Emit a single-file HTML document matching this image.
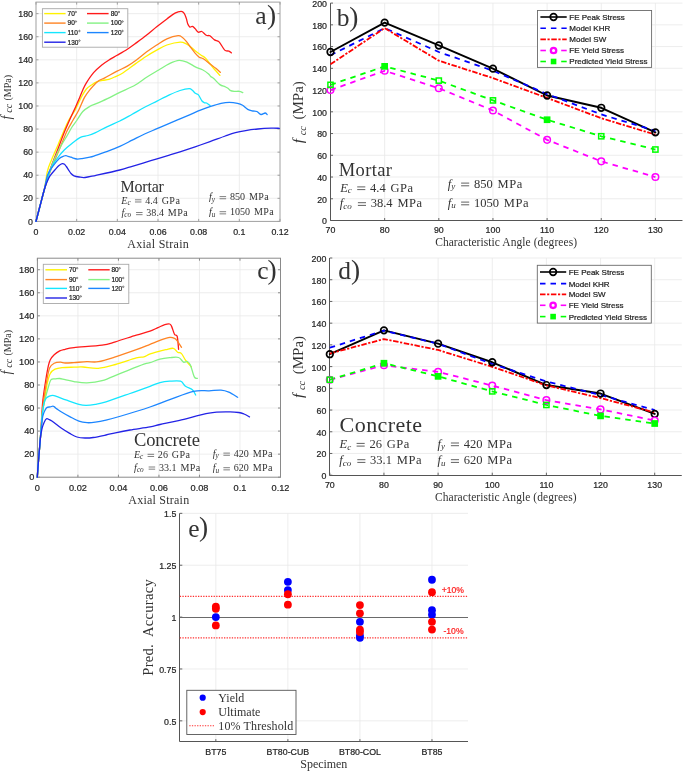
<!DOCTYPE html>
<html><head><meta charset="utf-8"><style>
html,body{margin:0;padding:0;background:#fff;}
svg{display:block;will-change:transform;}
</style></head><body>
<svg width="685" height="771" viewBox="0 0 685 771">
<rect width="685" height="771" fill="#fff"/>
<line x1="76.67" y1="2.10" x2="76.67" y2="221.40" stroke="#e8e8e8" stroke-width="0.8" />
<line x1="117.33" y1="2.10" x2="117.33" y2="221.40" stroke="#e8e8e8" stroke-width="0.8" />
<line x1="158.00" y1="2.10" x2="158.00" y2="221.40" stroke="#e8e8e8" stroke-width="0.8" />
<line x1="198.67" y1="2.10" x2="198.67" y2="221.40" stroke="#e8e8e8" stroke-width="0.8" />
<line x1="239.33" y1="2.10" x2="239.33" y2="221.40" stroke="#e8e8e8" stroke-width="0.8" />
<line x1="36.00" y1="198.32" x2="280.00" y2="198.32" stroke="#e8e8e8" stroke-width="0.8" />
<line x1="36.00" y1="175.23" x2="280.00" y2="175.23" stroke="#e8e8e8" stroke-width="0.8" />
<line x1="36.00" y1="152.15" x2="280.00" y2="152.15" stroke="#e8e8e8" stroke-width="0.8" />
<line x1="36.00" y1="129.06" x2="280.00" y2="129.06" stroke="#e8e8e8" stroke-width="0.8" />
<line x1="36.00" y1="105.98" x2="280.00" y2="105.98" stroke="#e8e8e8" stroke-width="0.8" />
<line x1="36.00" y1="82.89" x2="280.00" y2="82.89" stroke="#e8e8e8" stroke-width="0.8" />
<line x1="36.00" y1="59.81" x2="280.00" y2="59.81" stroke="#e8e8e8" stroke-width="0.8" />
<line x1="36.00" y1="36.73" x2="280.00" y2="36.73" stroke="#e8e8e8" stroke-width="0.8" />
<line x1="36.00" y1="13.64" x2="280.00" y2="13.64" stroke="#e8e8e8" stroke-width="0.8" />
<rect x="36" y="2.1" width="244" height="219.3" fill="none" stroke="#a0a0a0" stroke-width="1"/>
<line x1="36.00" y1="221.40" x2="36.00" y2="218.90" stroke="#a0a0a0" stroke-width="1" />
<line x1="36.00" y1="2.10" x2="36.00" y2="4.60" stroke="#a0a0a0" stroke-width="1" />
<text x="36.00" y="234.80" font-size="8.8" text-anchor="middle" font-family='"Liberation Sans", sans-serif' fill="#262626" stroke="#262626" stroke-width="0.22" >0</text>
<line x1="76.67" y1="221.40" x2="76.67" y2="218.90" stroke="#a0a0a0" stroke-width="1" />
<line x1="76.67" y1="2.10" x2="76.67" y2="4.60" stroke="#a0a0a0" stroke-width="1" />
<text x="76.67" y="234.80" font-size="8.8" text-anchor="middle" font-family='"Liberation Sans", sans-serif' fill="#262626" stroke="#262626" stroke-width="0.22" >0.02</text>
<line x1="117.33" y1="221.40" x2="117.33" y2="218.90" stroke="#a0a0a0" stroke-width="1" />
<line x1="117.33" y1="2.10" x2="117.33" y2="4.60" stroke="#a0a0a0" stroke-width="1" />
<text x="117.33" y="234.80" font-size="8.8" text-anchor="middle" font-family='"Liberation Sans", sans-serif' fill="#262626" stroke="#262626" stroke-width="0.22" >0.04</text>
<line x1="158.00" y1="221.40" x2="158.00" y2="218.90" stroke="#a0a0a0" stroke-width="1" />
<line x1="158.00" y1="2.10" x2="158.00" y2="4.60" stroke="#a0a0a0" stroke-width="1" />
<text x="158.00" y="234.80" font-size="8.8" text-anchor="middle" font-family='"Liberation Sans", sans-serif' fill="#262626" stroke="#262626" stroke-width="0.22" >0.06</text>
<line x1="198.67" y1="221.40" x2="198.67" y2="218.90" stroke="#a0a0a0" stroke-width="1" />
<line x1="198.67" y1="2.10" x2="198.67" y2="4.60" stroke="#a0a0a0" stroke-width="1" />
<text x="198.67" y="234.80" font-size="8.8" text-anchor="middle" font-family='"Liberation Sans", sans-serif' fill="#262626" stroke="#262626" stroke-width="0.22" >0.08</text>
<line x1="239.33" y1="221.40" x2="239.33" y2="218.90" stroke="#a0a0a0" stroke-width="1" />
<line x1="239.33" y1="2.10" x2="239.33" y2="4.60" stroke="#a0a0a0" stroke-width="1" />
<text x="239.33" y="234.80" font-size="8.8" text-anchor="middle" font-family='"Liberation Sans", sans-serif' fill="#262626" stroke="#262626" stroke-width="0.22" >0.1</text>
<line x1="280.00" y1="221.40" x2="280.00" y2="218.90" stroke="#a0a0a0" stroke-width="1" />
<line x1="280.00" y1="2.10" x2="280.00" y2="4.60" stroke="#a0a0a0" stroke-width="1" />
<text x="280.00" y="234.80" font-size="8.8" text-anchor="middle" font-family='"Liberation Sans", sans-serif' fill="#262626" stroke="#262626" stroke-width="0.22" >0.12</text>
<line x1="36.00" y1="221.40" x2="38.50" y2="221.40" stroke="#a0a0a0" stroke-width="1" />
<line x1="280.00" y1="221.40" x2="277.50" y2="221.40" stroke="#a0a0a0" stroke-width="1" />
<text x="33.00" y="224.50" font-size="8.8" text-anchor="end" font-family='"Liberation Sans", sans-serif' fill="#262626" stroke="#262626" stroke-width="0.22" >0</text>
<line x1="36.00" y1="198.32" x2="38.50" y2="198.32" stroke="#a0a0a0" stroke-width="1" />
<line x1="280.00" y1="198.32" x2="277.50" y2="198.32" stroke="#a0a0a0" stroke-width="1" />
<text x="33.00" y="201.42" font-size="8.8" text-anchor="end" font-family='"Liberation Sans", sans-serif' fill="#262626" stroke="#262626" stroke-width="0.22" >20</text>
<line x1="36.00" y1="175.23" x2="38.50" y2="175.23" stroke="#a0a0a0" stroke-width="1" />
<line x1="280.00" y1="175.23" x2="277.50" y2="175.23" stroke="#a0a0a0" stroke-width="1" />
<text x="33.00" y="178.33" font-size="8.8" text-anchor="end" font-family='"Liberation Sans", sans-serif' fill="#262626" stroke="#262626" stroke-width="0.22" >40</text>
<line x1="36.00" y1="152.15" x2="38.50" y2="152.15" stroke="#a0a0a0" stroke-width="1" />
<line x1="280.00" y1="152.15" x2="277.50" y2="152.15" stroke="#a0a0a0" stroke-width="1" />
<text x="33.00" y="155.25" font-size="8.8" text-anchor="end" font-family='"Liberation Sans", sans-serif' fill="#262626" stroke="#262626" stroke-width="0.22" >60</text>
<line x1="36.00" y1="129.06" x2="38.50" y2="129.06" stroke="#a0a0a0" stroke-width="1" />
<line x1="280.00" y1="129.06" x2="277.50" y2="129.06" stroke="#a0a0a0" stroke-width="1" />
<text x="33.00" y="132.16" font-size="8.8" text-anchor="end" font-family='"Liberation Sans", sans-serif' fill="#262626" stroke="#262626" stroke-width="0.22" >80</text>
<line x1="36.00" y1="105.98" x2="38.50" y2="105.98" stroke="#a0a0a0" stroke-width="1" />
<line x1="280.00" y1="105.98" x2="277.50" y2="105.98" stroke="#a0a0a0" stroke-width="1" />
<text x="33.00" y="109.08" font-size="8.8" text-anchor="end" font-family='"Liberation Sans", sans-serif' fill="#262626" stroke="#262626" stroke-width="0.22" >100</text>
<line x1="36.00" y1="82.89" x2="38.50" y2="82.89" stroke="#a0a0a0" stroke-width="1" />
<line x1="280.00" y1="82.89" x2="277.50" y2="82.89" stroke="#a0a0a0" stroke-width="1" />
<text x="33.00" y="85.99" font-size="8.8" text-anchor="end" font-family='"Liberation Sans", sans-serif' fill="#262626" stroke="#262626" stroke-width="0.22" >120</text>
<line x1="36.00" y1="59.81" x2="38.50" y2="59.81" stroke="#a0a0a0" stroke-width="1" />
<line x1="280.00" y1="59.81" x2="277.50" y2="59.81" stroke="#a0a0a0" stroke-width="1" />
<text x="33.00" y="62.91" font-size="8.8" text-anchor="end" font-family='"Liberation Sans", sans-serif' fill="#262626" stroke="#262626" stroke-width="0.22" >140</text>
<line x1="36.00" y1="36.73" x2="38.50" y2="36.73" stroke="#a0a0a0" stroke-width="1" />
<line x1="280.00" y1="36.73" x2="277.50" y2="36.73" stroke="#a0a0a0" stroke-width="1" />
<text x="33.00" y="39.83" font-size="8.8" text-anchor="end" font-family='"Liberation Sans", sans-serif' fill="#262626" stroke="#262626" stroke-width="0.22" >160</text>
<line x1="36.00" y1="13.64" x2="38.50" y2="13.64" stroke="#a0a0a0" stroke-width="1" />
<line x1="280.00" y1="13.64" x2="277.50" y2="13.64" stroke="#a0a0a0" stroke-width="1" />
<text x="33.00" y="16.74" font-size="8.8" text-anchor="end" font-family='"Liberation Sans", sans-serif' fill="#262626" stroke="#262626" stroke-width="0.22" >180</text>
<path d="M36.00,221.40 C36.67,218.83 38.63,211.23 40.00,206.00 C41.37,200.77 42.95,195.83 44.20,190.00 C45.45,184.17 46.33,175.88 47.50,171.00 C48.67,166.12 49.42,165.13 51.20,160.70 C52.98,156.27 56.23,149.02 58.20,144.40 C60.17,139.78 61.23,137.07 63.00,133.00 C64.77,128.93 66.77,123.83 68.80,120.00 C70.83,116.17 73.12,113.80 75.20,110.00 C77.28,106.20 79.43,100.70 81.30,97.20 C83.17,93.70 84.70,91.03 86.40,89.00 C88.10,86.97 89.78,86.18 91.50,85.00 C93.22,83.82 94.82,82.67 96.70,81.90 C98.58,81.13 100.77,80.83 102.80,80.40 C104.83,79.97 106.87,79.90 108.90,79.30 C110.93,78.70 112.62,77.90 115.00,76.80 C117.38,75.70 119.70,74.93 123.20,72.70 C126.70,70.47 132.13,66.15 136.00,63.40 C139.87,60.65 142.95,58.42 146.40,56.20 C149.85,53.98 153.28,51.97 156.70,50.10 C160.12,48.23 162.98,46.33 166.90,45.00 C170.82,43.67 176.97,42.28 180.20,42.10 C183.43,41.92 184.43,43.00 186.30,43.90 C188.17,44.80 189.77,46.22 191.40,47.50 C193.03,48.78 194.47,50.32 196.10,51.60 C197.73,52.88 199.63,54.12 201.20,55.20 C202.77,56.28 203.95,56.55 205.50,58.10 C207.05,59.65 208.98,62.60 210.50,64.50 C212.02,66.40 213.03,67.68 214.60,69.50 C216.17,71.32 219.02,74.42 219.90,75.40" fill="none" stroke="#fff200" stroke-width="1.3" stroke-linejoin="round" stroke-linecap="round" />
<path d="M36.00,221.40 C36.67,218.83 38.63,211.23 40.00,206.00 C41.37,200.77 42.53,196.00 44.20,190.00 C45.87,184.00 47.57,177.22 50.00,170.00 C52.43,162.78 56.47,152.87 58.80,146.70 C61.13,140.53 62.20,137.45 64.00,133.00 C65.80,128.55 67.63,124.43 69.60,120.00 C71.57,115.57 74.12,110.17 75.80,106.40 C77.48,102.63 78.53,100.13 79.70,97.40 C80.87,94.67 81.68,92.42 82.80,90.00 C83.92,87.58 84.60,85.78 86.40,82.90 C88.20,80.02 91.03,75.68 93.60,72.70 C96.17,69.72 99.08,67.22 101.80,65.00 C104.52,62.78 107.35,61.02 109.90,59.40 C112.45,57.78 114.20,57.00 117.10,55.30 C120.00,53.60 124.12,51.27 127.30,49.20 C130.48,47.13 133.02,45.22 136.20,42.90 C139.38,40.58 142.98,37.98 146.40,35.30 C149.82,32.62 153.28,29.53 156.70,26.80 C160.12,24.07 163.85,21.18 166.90,18.90 C169.95,16.62 172.62,14.35 175.00,13.10 C177.38,11.85 179.67,11.37 181.20,11.40 C182.73,11.43 183.35,12.13 184.20,13.30 C185.05,14.47 185.70,16.62 186.30,18.40 C186.90,20.18 187.20,22.55 187.80,24.00 C188.40,25.45 189.13,26.70 189.90,27.10 C190.67,27.50 191.53,26.15 192.40,26.40 C193.27,26.65 194.13,27.63 195.10,28.60 C196.07,29.57 197.08,31.72 198.20,32.20 C199.32,32.68 200.45,30.98 201.80,31.50 C203.15,32.02 204.95,34.58 206.30,35.30 C207.65,36.02 208.53,35.03 209.90,35.80 C211.27,36.57 212.97,38.88 214.50,39.90 C216.03,40.92 217.40,40.20 219.10,41.90 C220.80,43.60 223.08,48.57 224.70,50.10 C226.32,51.63 227.68,50.63 228.80,51.10 C229.92,51.57 230.97,52.60 231.40,52.90" fill="none" stroke="#ff1a1a" stroke-width="1.3" stroke-linejoin="round" stroke-linecap="round" />
<path d="M36.00,221.40 C36.67,218.83 38.63,211.23 40.00,206.00 C41.37,200.77 42.53,195.67 44.20,190.00 C45.87,184.33 47.28,179.22 50.00,172.00 C52.72,164.78 57.67,153.53 60.50,146.70 C63.33,139.87 64.90,135.45 67.00,131.00 C69.10,126.55 71.13,123.50 73.10,120.00 C75.07,116.50 76.90,113.77 78.80,110.00 C80.70,106.23 82.55,100.90 84.50,97.40 C86.45,93.90 88.30,91.67 90.50,89.00 C92.70,86.33 95.32,83.27 97.70,81.40 C100.08,79.53 101.57,79.50 104.80,77.80 C108.03,76.10 113.35,73.15 117.10,71.20 C120.85,69.25 124.13,67.93 127.30,66.10 C130.47,64.27 132.92,62.53 136.10,60.20 C139.28,57.87 142.97,54.63 146.40,52.10 C149.83,49.57 153.28,47.22 156.70,45.00 C160.12,42.78 163.33,40.37 166.90,38.80 C170.47,37.23 175.55,35.85 178.10,35.60 C180.65,35.35 180.83,36.33 182.20,37.30 C183.57,38.27 184.93,39.78 186.30,41.40 C187.67,43.02 188.93,45.05 190.40,47.00 C191.87,48.95 193.63,51.40 195.10,53.10 C196.57,54.80 197.83,56.25 199.20,57.20 C200.57,58.15 201.42,57.62 203.30,58.80 C205.18,59.98 208.42,62.72 210.50,64.30 C212.58,65.88 214.15,66.95 215.80,68.30 C217.45,69.65 219.63,71.72 220.40,72.40" fill="none" stroke="#ff8424" stroke-width="1.3" stroke-linejoin="round" stroke-linecap="round" />
<path d="M36.00,221.40 C36.67,218.83 38.63,211.23 40.00,206.00 C41.37,200.77 42.15,196.97 44.20,190.00 C46.25,183.03 49.78,171.03 52.30,164.20 C54.82,157.37 56.77,153.87 59.30,149.00 C61.83,144.13 65.38,138.67 67.50,135.00 C69.62,131.33 70.40,129.50 72.00,127.00 C73.60,124.50 75.30,122.58 77.10,120.00 C78.90,117.42 80.65,113.80 82.80,111.50 C84.95,109.20 87.97,107.42 90.00,106.20 C92.03,104.98 92.10,105.47 95.00,104.20 C97.90,102.93 103.27,100.57 107.40,98.60 C111.53,96.63 115.15,94.67 119.80,92.40 C124.45,90.13 130.77,87.57 135.30,85.00 C139.83,82.43 143.10,79.50 147.00,77.00 C150.90,74.50 154.88,72.27 158.70,70.00 C162.52,67.73 166.50,65.02 169.90,63.40 C173.30,61.78 176.20,60.48 179.10,60.30 C182.00,60.12 184.60,61.22 187.30,62.30 C190.00,63.38 192.77,65.55 195.30,66.80 C197.83,68.05 200.28,68.62 202.50,69.80 C204.72,70.98 207.23,72.78 208.60,73.90 C209.97,75.02 209.85,75.73 210.70,76.50 C211.55,77.27 212.17,77.15 213.70,78.50 C215.23,79.85 218.02,83.23 219.90,84.60 C221.78,85.97 223.65,86.10 225.00,86.70 C226.35,87.30 227.15,87.60 228.00,88.20 C228.85,88.80 229.07,89.78 230.10,90.30 C231.13,90.82 232.67,91.13 234.20,91.30 C235.73,91.47 237.87,91.08 239.30,91.30 C240.73,91.52 242.22,92.38 242.80,92.60" fill="none" stroke="#84f284" stroke-width="1.3" stroke-linejoin="round" stroke-linecap="round" />
<path d="M36.00,221.40 C36.67,218.83 38.63,211.23 40.00,206.00 C41.37,200.77 42.33,196.38 44.20,190.00 C46.07,183.62 48.87,173.17 51.20,167.70 C53.53,162.23 56.07,160.12 58.20,157.20 C60.33,154.28 61.67,152.53 64.00,150.20 C66.33,147.87 69.47,145.33 72.20,143.20 C74.93,141.07 77.77,138.68 80.40,137.40 C83.03,136.12 85.57,136.27 88.00,135.50 C90.43,134.73 91.77,134.28 95.00,132.80 C98.23,131.32 103.27,128.57 107.40,126.60 C111.53,124.63 115.67,123.07 119.80,121.00 C123.93,118.93 128.07,116.48 132.20,114.20 C136.33,111.92 140.47,109.48 144.60,107.30 C148.73,105.12 152.87,103.17 157.00,101.10 C161.13,99.03 165.57,96.67 169.40,94.90 C173.23,93.13 176.70,91.53 180.00,90.50 C183.30,89.47 187.15,88.73 189.20,88.70 C191.25,88.67 191.28,89.53 192.30,90.30 C193.32,91.07 194.28,92.53 195.30,93.30 C196.32,94.07 197.28,93.62 198.40,94.90 C199.52,96.18 200.98,99.68 202.00,101.00 C203.02,102.32 203.73,102.47 204.50,102.80 C205.27,103.13 205.67,102.53 206.60,103.00 C207.53,103.47 209.52,105.17 210.10,105.60" fill="none" stroke="#14e6ff" stroke-width="1.3" stroke-linejoin="round" stroke-linecap="round" />
<path d="M36.00,221.40 C36.67,218.83 38.63,211.23 40.00,206.00 C41.37,200.77 42.92,195.22 44.20,190.00 C45.48,184.78 46.15,178.80 47.70,174.70 C49.25,170.60 51.57,168.12 53.50,165.40 C55.43,162.68 57.55,159.97 59.30,158.40 C61.05,156.83 62.88,156.47 64.00,156.00 C65.12,155.53 65.33,155.53 66.00,155.60 C66.67,155.67 67.35,156.20 68.00,156.40 C68.65,156.60 69.15,156.57 69.90,156.80 C70.65,157.03 71.33,157.43 72.50,157.80 C73.67,158.17 75.32,158.87 76.90,159.00 C78.48,159.13 79.83,158.90 82.00,158.60 C84.17,158.30 87.73,157.68 89.90,157.20 C92.07,156.72 92.08,156.67 95.00,155.70 C97.92,154.73 103.27,152.95 107.40,151.40 C111.53,149.85 115.67,148.27 119.80,146.40 C123.93,144.53 128.07,142.27 132.20,140.20 C136.33,138.13 140.47,135.92 144.60,134.00 C148.73,132.08 152.87,130.47 157.00,128.70 C161.13,126.93 165.57,125.03 169.40,123.40 C173.23,121.77 176.53,120.37 180.00,118.90 C183.47,117.43 186.80,116.05 190.20,114.60 C193.60,113.15 196.98,111.57 200.40,110.20 C203.82,108.83 207.25,107.55 210.70,106.40 C214.15,105.25 218.00,103.98 221.10,103.30 C224.20,102.62 226.57,102.30 229.30,102.30 C232.03,102.30 235.28,102.80 237.50,103.30 C239.72,103.80 240.90,104.28 242.60,105.30 C244.30,106.32 246.00,108.45 247.70,109.40 C249.40,110.35 251.27,110.65 252.80,111.00 C254.33,111.35 255.53,110.92 256.90,111.50 C258.27,112.08 259.63,114.25 261.00,114.50 C262.37,114.75 264.08,113.00 265.10,113.00 C266.12,113.00 266.77,114.25 267.10,114.50" fill="none" stroke="#1c86ff" stroke-width="1.3" stroke-linejoin="round" stroke-linecap="round" />
<path d="M36.00,221.40 C36.67,218.83 38.63,211.23 40.00,206.00 C41.37,200.77 43.03,194.00 44.20,190.00 C45.37,186.00 46.03,184.35 47.00,182.00 C47.97,179.65 48.53,178.08 50.00,175.90 C51.47,173.72 54.30,170.63 55.80,168.90 C57.30,167.17 57.92,166.38 59.00,165.50 C60.08,164.62 61.38,163.82 62.30,163.60 C63.22,163.38 63.83,163.72 64.50,164.20 C65.17,164.68 65.63,165.57 66.30,166.50 C66.97,167.43 67.72,168.63 68.50,169.80 C69.28,170.97 70.08,172.50 71.00,173.50 C71.92,174.50 72.63,175.22 74.00,175.80 C75.37,176.38 77.37,176.72 79.20,177.00 C81.03,177.28 82.20,177.78 85.00,177.50 C87.80,177.22 90.20,176.55 96.00,175.30 C101.80,174.05 113.77,171.50 119.80,170.00 C125.83,168.50 128.07,167.53 132.20,166.30 C136.33,165.07 140.47,163.85 144.60,162.60 C148.73,161.35 152.87,160.05 157.00,158.80 C161.13,157.55 165.57,156.27 169.40,155.10 C173.23,153.93 175.72,153.18 180.00,151.80 C184.28,150.42 190.10,148.50 195.10,146.80 C200.10,145.10 204.97,143.40 210.00,141.60 C215.03,139.80 221.07,137.48 225.30,136.00 C229.53,134.52 232.00,133.60 235.40,132.70 C238.80,131.80 241.95,131.22 245.70,130.60 C249.45,129.98 253.65,129.40 257.90,129.00 C262.15,128.60 267.62,128.32 271.20,128.20 C274.78,128.08 278.03,128.28 279.40,128.30" fill="none" stroke="#2323e6" stroke-width="1.3" stroke-linejoin="round" stroke-linecap="round" />
<rect x="42.4" y="8.7" width="85.4" height="38.5" fill="#fff" stroke="#a8a8a8" stroke-width="0.9"/>
<line x1="44.20" y1="13.60" x2="65.60" y2="13.60" stroke="#fff200" stroke-width="1.4" />
<text x="67.60" y="15.90" font-size="6.5" text-anchor="start" font-family='"Liberation Sans", sans-serif' fill="#222" stroke="#222" stroke-width="0.22" >70</text>
<circle cx="75.83" cy="12.00" r="0.75" fill="none" stroke="#333" stroke-width="0.6"/>
<line x1="87.00" y1="13.60" x2="108.60" y2="13.60" stroke="#ff1a1a" stroke-width="1.4" />
<text x="110.70" y="15.90" font-size="6.5" text-anchor="start" font-family='"Liberation Sans", sans-serif' fill="#222" stroke="#222" stroke-width="0.22" >80</text>
<circle cx="118.93" cy="12.00" r="0.75" fill="none" stroke="#333" stroke-width="0.6"/>
<line x1="44.20" y1="23.10" x2="65.60" y2="23.10" stroke="#ff8424" stroke-width="1.4" />
<text x="67.60" y="25.40" font-size="6.5" text-anchor="start" font-family='"Liberation Sans", sans-serif' fill="#222" stroke="#222" stroke-width="0.22" >90</text>
<circle cx="75.83" cy="21.50" r="0.75" fill="none" stroke="#333" stroke-width="0.6"/>
<line x1="87.00" y1="23.10" x2="108.60" y2="23.10" stroke="#84f284" stroke-width="1.4" />
<text x="110.70" y="25.40" font-size="6.5" text-anchor="start" font-family='"Liberation Sans", sans-serif' fill="#222" stroke="#222" stroke-width="0.22" >100</text>
<circle cx="122.54" cy="21.50" r="0.75" fill="none" stroke="#333" stroke-width="0.6"/>
<line x1="44.20" y1="32.60" x2="65.60" y2="32.60" stroke="#14e6ff" stroke-width="1.4" />
<text x="67.60" y="34.90" font-size="6.5" text-anchor="start" font-family='"Liberation Sans", sans-serif' fill="#222" stroke="#222" stroke-width="0.22" >110</text>
<circle cx="79.44" cy="31.00" r="0.75" fill="none" stroke="#333" stroke-width="0.6"/>
<line x1="87.00" y1="32.60" x2="108.60" y2="32.60" stroke="#1c86ff" stroke-width="1.4" />
<text x="110.70" y="34.90" font-size="6.5" text-anchor="start" font-family='"Liberation Sans", sans-serif' fill="#222" stroke="#222" stroke-width="0.22" >120</text>
<circle cx="122.54" cy="31.00" r="0.75" fill="none" stroke="#333" stroke-width="0.6"/>
<line x1="44.20" y1="42.20" x2="65.60" y2="42.20" stroke="#2323e6" stroke-width="1.4" />
<text x="67.60" y="44.50" font-size="6.5" text-anchor="start" font-family='"Liberation Sans", sans-serif' fill="#222" stroke="#222" stroke-width="0.22" >130</text>
<circle cx="79.44" cy="40.60" r="0.75" fill="none" stroke="#333" stroke-width="0.6"/>
<text x="120.50" y="191.70" font-size="16" text-anchor="start" font-family='"Liberation Serif", serif' fill="#333" textLength="43.4">Mortar</text>
<text x="121.30" y="203.50" font-size="10.05" font-family='"Liberation Serif", serif' fill="#333" xml:space="preserve"><tspan font-style="italic">E</tspan><tspan font-style="italic" font-size="7.24" dy="1.21">c</tspan><tspan x="145.26" dy="-1.21">4.4</tspan><tspan x="161.68" letter-spacing="0.44">GPa</tspan></text>
<line x1="134.97" y1="199.80" x2="141.48" y2="199.80" stroke="#444" stroke-width="0.6834" />
<line x1="134.97" y1="201.97" x2="141.48" y2="201.97" stroke="#444" stroke-width="0.6834" />
<text x="121.50" y="216.20" font-size="10.05" font-family='"Liberation Serif", serif' fill="#333" xml:space="preserve"><tspan font-style="italic">f</tspan><tspan font-style="italic" font-size="7.24" dy="1.21">co</tspan><tspan x="146.34" dy="-1.21">38.4</tspan><tspan x="167.79" letter-spacing="0.44">MPa</tspan></text>
<line x1="136.05" y1="212.50" x2="142.56" y2="212.50" stroke="#444" stroke-width="0.6834" />
<line x1="136.05" y1="214.67" x2="142.56" y2="214.67" stroke="#444" stroke-width="0.6834" />
<text x="208.90" y="200.30" font-size="10.05" font-family='"Liberation Serif", serif' fill="#333" xml:space="preserve"><tspan font-style="italic">f</tspan><tspan font-style="italic" font-size="7.24" dy="1.21">y</tspan><tspan x="229.96" dy="-1.21">850</tspan><tspan x="248.90" letter-spacing="0.44">MPa</tspan></text>
<line x1="219.59" y1="196.60" x2="226.11" y2="196.60" stroke="#444" stroke-width="0.6834" />
<line x1="219.59" y1="198.77" x2="226.11" y2="198.77" stroke="#444" stroke-width="0.6834" />
<text x="208.90" y="215.40" font-size="10.05" font-family='"Liberation Serif", serif' fill="#333" xml:space="preserve"><tspan font-style="italic">f</tspan><tspan font-style="italic" font-size="7.24" dy="1.21">u</tspan><tspan x="229.96" dy="-1.21">1050</tspan><tspan x="253.92" letter-spacing="0.44">MPa</tspan></text>
<line x1="219.59" y1="211.70" x2="226.11" y2="211.70" stroke="#444" stroke-width="0.6834" />
<line x1="219.59" y1="213.87" x2="226.11" y2="213.87" stroke="#444" stroke-width="0.6834" />
<text x="255.20" y="23.70" font-size="25.5" text-anchor="start" font-family='"Liberation Serif", serif' fill="#333" >a</text>
<text x="267.00" y="24.00" font-size="27.5" text-anchor="start" font-family='"Liberation Serif", serif' fill="#333" >)</text>
<text x="158.00" y="247.70" font-size="12" text-anchor="middle" font-family='"Liberation Serif", serif' fill="#333" textLength="61.6">Axial Strain</text>
<g transform="translate(10.7,0) rotate(-90)"><text y="0" font-family='"Liberation Serif", serif' fill="#333" xml:space="preserve"><tspan x="-119.5" font-style="italic" font-size="14">f</tspan><tspan x="-112.8" dy="1.0" font-style="italic" font-size="10">cc</tspan><tspan x="-100.6" dy="-1.0" font-size="10">(MPa)</tspan></text></g>
<line x1="77.92" y1="258.20" x2="77.92" y2="477.20" stroke="#e8e8e8" stroke-width="0.8" />
<line x1="118.43" y1="258.20" x2="118.43" y2="477.20" stroke="#e8e8e8" stroke-width="0.8" />
<line x1="158.95" y1="258.20" x2="158.95" y2="477.20" stroke="#e8e8e8" stroke-width="0.8" />
<line x1="199.47" y1="258.20" x2="199.47" y2="477.20" stroke="#e8e8e8" stroke-width="0.8" />
<line x1="239.98" y1="258.20" x2="239.98" y2="477.20" stroke="#e8e8e8" stroke-width="0.8" />
<line x1="37.40" y1="454.15" x2="280.50" y2="454.15" stroke="#e8e8e8" stroke-width="0.8" />
<line x1="37.40" y1="431.09" x2="280.50" y2="431.09" stroke="#e8e8e8" stroke-width="0.8" />
<line x1="37.40" y1="408.04" x2="280.50" y2="408.04" stroke="#e8e8e8" stroke-width="0.8" />
<line x1="37.40" y1="384.99" x2="280.50" y2="384.99" stroke="#e8e8e8" stroke-width="0.8" />
<line x1="37.40" y1="361.94" x2="280.50" y2="361.94" stroke="#e8e8e8" stroke-width="0.8" />
<line x1="37.40" y1="338.88" x2="280.50" y2="338.88" stroke="#e8e8e8" stroke-width="0.8" />
<line x1="37.40" y1="315.83" x2="280.50" y2="315.83" stroke="#e8e8e8" stroke-width="0.8" />
<line x1="37.40" y1="292.78" x2="280.50" y2="292.78" stroke="#e8e8e8" stroke-width="0.8" />
<line x1="37.40" y1="269.73" x2="280.50" y2="269.73" stroke="#e8e8e8" stroke-width="0.8" />
<rect x="37.4" y="258.2" width="243.1" height="219.0" fill="none" stroke="#8a8a8a" stroke-width="1"/>
<line x1="37.40" y1="477.20" x2="37.40" y2="474.70" stroke="#8a8a8a" stroke-width="1" />
<line x1="37.40" y1="258.20" x2="37.40" y2="260.70" stroke="#8a8a8a" stroke-width="1" />
<text x="37.40" y="490.60" font-size="9.2" text-anchor="middle" font-family='"Liberation Sans", sans-serif' fill="#262626" stroke="#262626" stroke-width="0.22" >0</text>
<line x1="77.92" y1="477.20" x2="77.92" y2="474.70" stroke="#8a8a8a" stroke-width="1" />
<line x1="77.92" y1="258.20" x2="77.92" y2="260.70" stroke="#8a8a8a" stroke-width="1" />
<text x="77.92" y="490.60" font-size="9.2" text-anchor="middle" font-family='"Liberation Sans", sans-serif' fill="#262626" stroke="#262626" stroke-width="0.22" >0.02</text>
<line x1="118.43" y1="477.20" x2="118.43" y2="474.70" stroke="#8a8a8a" stroke-width="1" />
<line x1="118.43" y1="258.20" x2="118.43" y2="260.70" stroke="#8a8a8a" stroke-width="1" />
<text x="118.43" y="490.60" font-size="9.2" text-anchor="middle" font-family='"Liberation Sans", sans-serif' fill="#262626" stroke="#262626" stroke-width="0.22" >0.04</text>
<line x1="158.95" y1="477.20" x2="158.95" y2="474.70" stroke="#8a8a8a" stroke-width="1" />
<line x1="158.95" y1="258.20" x2="158.95" y2="260.70" stroke="#8a8a8a" stroke-width="1" />
<text x="158.95" y="490.60" font-size="9.2" text-anchor="middle" font-family='"Liberation Sans", sans-serif' fill="#262626" stroke="#262626" stroke-width="0.22" >0.06</text>
<line x1="199.47" y1="477.20" x2="199.47" y2="474.70" stroke="#8a8a8a" stroke-width="1" />
<line x1="199.47" y1="258.20" x2="199.47" y2="260.70" stroke="#8a8a8a" stroke-width="1" />
<text x="199.47" y="490.60" font-size="9.2" text-anchor="middle" font-family='"Liberation Sans", sans-serif' fill="#262626" stroke="#262626" stroke-width="0.22" >0.08</text>
<line x1="239.98" y1="477.20" x2="239.98" y2="474.70" stroke="#8a8a8a" stroke-width="1" />
<line x1="239.98" y1="258.20" x2="239.98" y2="260.70" stroke="#8a8a8a" stroke-width="1" />
<text x="239.98" y="490.60" font-size="9.2" text-anchor="middle" font-family='"Liberation Sans", sans-serif' fill="#262626" stroke="#262626" stroke-width="0.22" >0.1</text>
<line x1="280.50" y1="477.20" x2="280.50" y2="474.70" stroke="#8a8a8a" stroke-width="1" />
<line x1="280.50" y1="258.20" x2="280.50" y2="260.70" stroke="#8a8a8a" stroke-width="1" />
<text x="280.50" y="490.60" font-size="9.2" text-anchor="middle" font-family='"Liberation Sans", sans-serif' fill="#262626" stroke="#262626" stroke-width="0.22" >0.12</text>
<line x1="37.40" y1="477.20" x2="39.90" y2="477.20" stroke="#8a8a8a" stroke-width="1" />
<line x1="280.50" y1="477.20" x2="278.00" y2="477.20" stroke="#8a8a8a" stroke-width="1" />
<text x="34.40" y="480.30" font-size="9.2" text-anchor="end" font-family='"Liberation Sans", sans-serif' fill="#262626" stroke="#262626" stroke-width="0.22" >0</text>
<line x1="37.40" y1="454.15" x2="39.90" y2="454.15" stroke="#8a8a8a" stroke-width="1" />
<line x1="280.50" y1="454.15" x2="278.00" y2="454.15" stroke="#8a8a8a" stroke-width="1" />
<text x="34.40" y="457.25" font-size="9.2" text-anchor="end" font-family='"Liberation Sans", sans-serif' fill="#262626" stroke="#262626" stroke-width="0.22" >20</text>
<line x1="37.40" y1="431.09" x2="39.90" y2="431.09" stroke="#8a8a8a" stroke-width="1" />
<line x1="280.50" y1="431.09" x2="278.00" y2="431.09" stroke="#8a8a8a" stroke-width="1" />
<text x="34.40" y="434.19" font-size="9.2" text-anchor="end" font-family='"Liberation Sans", sans-serif' fill="#262626" stroke="#262626" stroke-width="0.22" >40</text>
<line x1="37.40" y1="408.04" x2="39.90" y2="408.04" stroke="#8a8a8a" stroke-width="1" />
<line x1="280.50" y1="408.04" x2="278.00" y2="408.04" stroke="#8a8a8a" stroke-width="1" />
<text x="34.40" y="411.14" font-size="9.2" text-anchor="end" font-family='"Liberation Sans", sans-serif' fill="#262626" stroke="#262626" stroke-width="0.22" >60</text>
<line x1="37.40" y1="384.99" x2="39.90" y2="384.99" stroke="#8a8a8a" stroke-width="1" />
<line x1="280.50" y1="384.99" x2="278.00" y2="384.99" stroke="#8a8a8a" stroke-width="1" />
<text x="34.40" y="388.09" font-size="9.2" text-anchor="end" font-family='"Liberation Sans", sans-serif' fill="#262626" stroke="#262626" stroke-width="0.22" >80</text>
<line x1="37.40" y1="361.94" x2="39.90" y2="361.94" stroke="#8a8a8a" stroke-width="1" />
<line x1="280.50" y1="361.94" x2="278.00" y2="361.94" stroke="#8a8a8a" stroke-width="1" />
<text x="34.40" y="365.04" font-size="9.2" text-anchor="end" font-family='"Liberation Sans", sans-serif' fill="#262626" stroke="#262626" stroke-width="0.22" >100</text>
<line x1="37.40" y1="338.88" x2="39.90" y2="338.88" stroke="#8a8a8a" stroke-width="1" />
<line x1="280.50" y1="338.88" x2="278.00" y2="338.88" stroke="#8a8a8a" stroke-width="1" />
<text x="34.40" y="341.98" font-size="9.2" text-anchor="end" font-family='"Liberation Sans", sans-serif' fill="#262626" stroke="#262626" stroke-width="0.22" >120</text>
<line x1="37.40" y1="315.83" x2="39.90" y2="315.83" stroke="#8a8a8a" stroke-width="1" />
<line x1="280.50" y1="315.83" x2="278.00" y2="315.83" stroke="#8a8a8a" stroke-width="1" />
<text x="34.40" y="318.93" font-size="9.2" text-anchor="end" font-family='"Liberation Sans", sans-serif' fill="#262626" stroke="#262626" stroke-width="0.22" >140</text>
<line x1="37.40" y1="292.78" x2="39.90" y2="292.78" stroke="#8a8a8a" stroke-width="1" />
<line x1="280.50" y1="292.78" x2="278.00" y2="292.78" stroke="#8a8a8a" stroke-width="1" />
<text x="34.40" y="295.88" font-size="9.2" text-anchor="end" font-family='"Liberation Sans", sans-serif' fill="#262626" stroke="#262626" stroke-width="0.22" >160</text>
<line x1="37.40" y1="269.73" x2="39.90" y2="269.73" stroke="#8a8a8a" stroke-width="1" />
<line x1="280.50" y1="269.73" x2="278.00" y2="269.73" stroke="#8a8a8a" stroke-width="1" />
<text x="34.40" y="272.83" font-size="9.2" text-anchor="end" font-family='"Liberation Sans", sans-serif' fill="#262626" stroke="#262626" stroke-width="0.22" >180</text>
<path d="M37.30,477.20 C37.43,475.27 37.78,469.73 38.10,465.60 C38.42,461.47 38.83,456.82 39.20,452.40 C39.57,447.98 39.95,443.50 40.30,439.10 C40.65,434.70 40.95,430.52 41.30,426.00 C41.65,421.48 41.87,416.33 42.40,412.00 C42.93,407.67 43.70,404.73 44.50,400.00 C45.30,395.27 46.23,388.02 47.20,383.60 C48.17,379.18 49.00,375.90 50.30,373.50 C51.60,371.10 53.05,370.18 55.00,369.20 C56.95,368.22 58.83,367.93 62.00,367.60 C65.17,367.27 70.48,367.30 74.00,367.20 C77.52,367.10 79.05,366.82 83.10,367.00 C87.15,367.18 92.92,368.72 98.30,368.30 C103.68,367.88 109.07,366.23 115.40,364.50 C121.73,362.77 131.55,359.17 136.30,357.90 C141.05,356.63 141.68,357.53 143.90,356.90 C146.12,356.27 147.27,354.98 149.60,354.10 C151.93,353.22 155.20,352.33 157.90,351.60 C160.60,350.87 163.23,350.25 165.80,349.70 C168.37,349.15 171.33,347.88 173.30,348.30 C175.27,348.72 176.23,351.32 177.60,352.20 C178.97,353.08 180.18,352.28 181.50,353.60 C182.82,354.92 183.85,357.87 185.50,360.10 C187.15,362.33 190.42,365.85 191.40,367.00" fill="none" stroke="#fff200" stroke-width="1.3" stroke-linejoin="round" stroke-linecap="round" />
<path d="M37.30,477.20 C37.43,475.27 37.78,469.73 38.10,465.60 C38.42,461.47 38.83,456.82 39.20,452.40 C39.57,447.98 39.97,443.50 40.30,439.10 C40.63,434.70 40.92,430.52 41.20,426.00 C41.48,421.48 41.72,416.33 42.00,412.00 C42.28,407.67 42.28,405.25 42.90,400.00 C43.52,394.75 44.78,386.22 45.70,380.50 C46.62,374.78 47.63,369.15 48.40,365.70 C49.17,362.25 49.33,361.62 50.30,359.80 C51.27,357.98 52.63,356.28 54.20,354.80 C55.77,353.32 57.88,351.82 59.70,350.90 C61.52,349.98 62.72,349.85 65.10,349.30 C67.48,348.75 67.83,348.28 74.00,347.60 C80.17,346.92 95.20,346.17 102.10,345.20 C109.00,344.23 109.70,343.48 115.40,341.80 C121.10,340.12 130.53,336.88 136.30,335.10 C142.07,333.32 146.40,332.35 150.00,331.10 C153.60,329.85 155.43,328.68 157.90,327.60 C160.37,326.52 162.83,325.20 164.80,324.60 C166.77,324.00 168.55,323.67 169.70,324.00 C170.85,324.33 170.88,324.85 171.70,326.60 C172.52,328.35 173.68,332.85 174.60,334.50 C175.52,336.15 176.53,334.03 177.20,336.50 C177.87,338.97 178.37,347.17 178.60,349.30" fill="none" stroke="#ff1a1a" stroke-width="1.3" stroke-linejoin="round" stroke-linecap="round" />
<path d="M37.30,477.20 C37.43,475.27 37.78,469.73 38.10,465.60 C38.42,461.47 38.83,456.82 39.20,452.40 C39.57,447.98 39.95,443.50 40.30,439.10 C40.65,434.70 40.97,430.52 41.30,426.00 C41.63,421.48 41.90,416.33 42.30,412.00 C42.70,407.67 43.00,405.00 43.70,400.00 C44.40,395.00 45.52,387.33 46.50,382.00 C47.48,376.67 48.32,371.12 49.60,368.00 C50.88,364.88 52.38,364.27 54.20,363.30 C56.02,362.33 58.68,362.25 60.50,362.20 C62.32,362.15 62.85,362.93 65.10,363.00 C67.35,363.07 70.37,362.82 74.00,362.60 C77.63,362.38 82.85,361.85 86.90,361.70 C90.95,361.55 93.55,362.50 98.30,361.70 C103.05,360.90 109.07,358.90 115.40,356.90 C121.73,354.90 130.53,351.80 136.30,349.70 C142.07,347.60 146.07,345.85 150.00,344.30 C153.93,342.75 156.62,341.55 159.90,340.40 C163.18,339.25 167.25,337.73 169.70,337.40 C172.15,337.07 173.28,337.73 174.60,338.40 C175.92,339.07 176.45,339.92 177.60,341.40 C178.75,342.88 180.85,346.32 181.50,347.30" fill="none" stroke="#ff8424" stroke-width="1.3" stroke-linejoin="round" stroke-linecap="round" />
<path d="M37.30,477.20 C37.43,475.27 37.78,469.73 38.10,465.60 C38.42,461.47 38.83,456.82 39.20,452.40 C39.57,447.98 39.95,443.50 40.30,439.10 C40.65,434.70 40.93,430.52 41.30,426.00 C41.67,421.48 41.90,416.33 42.50,412.00 C43.10,407.67 43.98,403.97 44.90,400.00 C45.82,396.03 46.97,391.58 48.00,388.20 C49.03,384.82 49.80,381.25 51.10,379.70 C52.40,378.15 54.37,379.10 55.80,378.90 C57.23,378.70 58.15,378.37 59.70,378.50 C61.25,378.63 62.72,379.18 65.10,379.70 C67.48,380.22 70.37,381.07 74.00,381.60 C77.63,382.13 82.22,383.05 86.90,382.90 C91.58,382.75 96.40,382.33 102.10,380.70 C107.80,379.07 114.13,375.87 121.10,373.10 C128.07,370.33 139.08,365.83 143.90,364.10 C148.72,362.37 147.33,363.53 150.00,362.70 C152.67,361.87 156.62,359.93 159.90,359.10 C163.18,358.27 166.58,357.97 169.70,357.70 C172.82,357.43 176.30,356.77 178.60,357.50 C180.90,358.23 182.03,361.43 183.50,362.10 C184.97,362.77 186.25,361.02 187.40,361.50 C188.55,361.98 189.25,362.43 190.40,365.00 C191.55,367.57 193.15,374.67 194.30,376.90 C195.45,379.13 196.80,378.15 197.30,378.40" fill="none" stroke="#84f284" stroke-width="1.3" stroke-linejoin="round" stroke-linecap="round" />
<path d="M37.30,477.20 C37.43,475.27 37.78,469.73 38.10,465.60 C38.42,461.47 38.83,456.82 39.20,452.40 C39.57,447.98 39.95,443.33 40.30,439.10 C40.65,434.87 40.93,431.35 41.30,427.00 C41.67,422.65 42.02,417.12 42.50,413.00 C42.98,408.88 43.58,404.77 44.20,402.30 C44.82,399.83 45.35,399.23 46.20,398.20 C47.05,397.17 48.18,396.58 49.30,396.10 C50.42,395.62 51.72,395.27 52.90,395.30 C54.08,395.33 54.10,395.48 56.40,396.30 C58.70,397.12 62.95,398.87 66.70,400.20 C70.45,401.53 75.67,403.45 78.90,404.30 C82.13,405.15 83.37,405.30 86.10,405.30 C88.83,405.30 91.98,404.88 95.30,404.30 C98.62,403.72 100.22,403.60 106.00,401.80 C111.78,400.00 122.67,396.08 130.00,393.50 C137.33,390.92 145.00,388.12 150.00,386.30 C155.00,384.48 156.72,383.45 160.00,382.60 C163.28,381.75 166.28,381.43 169.70,381.20 C173.12,380.97 177.87,380.35 180.50,381.20 C183.13,382.05 183.52,384.88 185.50,386.30 C187.48,387.72 190.70,388.25 192.40,389.70 C194.10,391.15 195.15,394.12 195.70,395.00" fill="none" stroke="#14e6ff" stroke-width="1.3" stroke-linejoin="round" stroke-linecap="round" />
<path d="M37.30,477.20 C37.43,475.27 37.78,469.73 38.10,465.60 C38.42,461.47 38.83,456.82 39.20,452.40 C39.57,447.98 39.95,443.17 40.30,439.10 C40.65,435.03 40.88,431.85 41.30,428.00 C41.72,424.15 42.15,419.02 42.80,416.00 C43.45,412.98 44.47,411.33 45.20,409.90 C45.93,408.47 46.35,407.90 47.20,407.40 C48.05,406.90 49.35,407.12 50.30,406.90 C51.25,406.68 52.22,406.10 52.90,406.10 C53.58,406.10 53.73,406.43 54.40,406.90 C55.07,407.37 55.72,408.05 56.90,408.90 C58.08,409.75 59.37,410.72 61.50,412.00 C63.63,413.28 66.80,415.07 69.70,416.60 C72.60,418.13 76.00,420.18 78.90,421.20 C81.80,422.22 84.37,422.53 87.10,422.70 C89.83,422.87 92.15,422.63 95.30,422.20 C98.45,421.77 101.70,421.13 106.00,420.10 C110.30,419.07 113.77,418.18 121.10,416.00 C128.43,413.82 141.90,409.72 150.00,407.00 C158.10,404.28 162.47,402.30 169.70,399.70 C176.93,397.10 186.83,392.88 193.40,391.40 C199.97,389.92 204.50,391.00 209.10,390.80 C213.70,390.60 217.72,389.97 221.00,390.20 C224.28,390.43 226.02,391.02 228.80,392.20 C231.58,393.38 236.22,396.45 237.70,397.30" fill="none" stroke="#1c86ff" stroke-width="1.3" stroke-linejoin="round" stroke-linecap="round" />
<path d="M37.30,477.20 C37.43,475.27 37.78,469.73 38.10,465.60 C38.42,461.47 38.83,456.82 39.20,452.40 C39.57,447.98 39.85,442.97 40.30,439.10 C40.75,435.23 41.27,431.95 41.90,429.20 C42.53,426.45 43.33,424.33 44.10,422.60 C44.87,420.87 45.63,419.30 46.50,418.80 C47.37,418.30 48.33,419.20 49.30,419.60 C50.27,420.00 51.37,420.60 52.30,421.20 C53.23,421.80 53.37,422.02 54.90,423.20 C56.43,424.38 59.03,426.60 61.50,428.30 C63.97,430.00 67.13,431.95 69.70,433.40 C72.27,434.85 74.35,436.23 76.90,437.00 C79.45,437.77 82.28,437.92 85.00,438.00 C87.72,438.08 89.70,438.00 93.20,437.50 C96.70,437.00 102.30,435.78 106.00,435.00 C109.70,434.22 111.40,433.63 115.40,432.80 C119.40,431.97 124.23,430.98 130.00,430.00 C135.77,429.02 145.00,427.82 150.00,426.90 C155.00,425.98 155.07,425.58 160.00,424.50 C164.93,423.42 171.42,422.30 179.60,420.40 C187.78,418.50 200.90,414.52 209.10,413.10 C217.30,411.68 223.87,412.00 228.80,411.90 C233.73,411.80 236.17,412.15 238.70,412.50 C241.23,412.85 242.20,413.27 244.00,414.00 C245.80,414.73 248.58,416.42 249.50,416.90" fill="none" stroke="#2323e6" stroke-width="1.3" stroke-linejoin="round" stroke-linecap="round" />
<rect x="43.3" y="264.3" width="85.50000000000001" height="39.19999999999999" fill="#fff" stroke="#a8a8a8" stroke-width="0.9"/>
<line x1="45.40" y1="269.80" x2="67.00" y2="269.80" stroke="#fff200" stroke-width="1.4" />
<text x="68.90" y="272.10" font-size="6.5" text-anchor="start" font-family='"Liberation Sans", sans-serif' fill="#222" stroke="#222" stroke-width="0.22" >70</text>
<circle cx="77.13" cy="268.20" r="0.75" fill="none" stroke="#333" stroke-width="0.6"/>
<line x1="88.30" y1="269.80" x2="109.70" y2="269.80" stroke="#ff1a1a" stroke-width="1.4" />
<text x="111.40" y="272.10" font-size="6.5" text-anchor="start" font-family='"Liberation Sans", sans-serif' fill="#222" stroke="#222" stroke-width="0.22" >80</text>
<circle cx="119.63" cy="268.20" r="0.75" fill="none" stroke="#333" stroke-width="0.6"/>
<line x1="45.40" y1="279.60" x2="67.00" y2="279.60" stroke="#ff8424" stroke-width="1.4" />
<text x="68.90" y="281.90" font-size="6.5" text-anchor="start" font-family='"Liberation Sans", sans-serif' fill="#222" stroke="#222" stroke-width="0.22" >90</text>
<circle cx="77.13" cy="278.00" r="0.75" fill="none" stroke="#333" stroke-width="0.6"/>
<line x1="88.30" y1="279.60" x2="109.70" y2="279.60" stroke="#84f284" stroke-width="1.4" />
<text x="111.40" y="281.90" font-size="6.5" text-anchor="start" font-family='"Liberation Sans", sans-serif' fill="#222" stroke="#222" stroke-width="0.22" >100</text>
<circle cx="123.24" cy="278.00" r="0.75" fill="none" stroke="#333" stroke-width="0.6"/>
<line x1="45.40" y1="288.40" x2="67.00" y2="288.40" stroke="#14e6ff" stroke-width="1.4" />
<text x="68.90" y="290.70" font-size="6.5" text-anchor="start" font-family='"Liberation Sans", sans-serif' fill="#222" stroke="#222" stroke-width="0.22" >110</text>
<circle cx="80.74" cy="286.80" r="0.75" fill="none" stroke="#333" stroke-width="0.6"/>
<line x1="88.30" y1="288.40" x2="109.70" y2="288.40" stroke="#1c86ff" stroke-width="1.4" />
<text x="111.40" y="290.70" font-size="6.5" text-anchor="start" font-family='"Liberation Sans", sans-serif' fill="#222" stroke="#222" stroke-width="0.22" >120</text>
<circle cx="123.24" cy="286.80" r="0.75" fill="none" stroke="#333" stroke-width="0.6"/>
<line x1="45.40" y1="298.00" x2="67.00" y2="298.00" stroke="#2323e6" stroke-width="1.4" />
<text x="68.90" y="300.30" font-size="6.5" text-anchor="start" font-family='"Liberation Sans", sans-serif' fill="#222" stroke="#222" stroke-width="0.22" >130</text>
<circle cx="80.74" cy="296.40" r="0.75" fill="none" stroke="#333" stroke-width="0.6"/>
<text x="133.90" y="445.70" font-size="18.5" text-anchor="start" font-family='"Liberation Serif", serif' fill="#333" textLength="66">Concrete</text>
<text x="133.90" y="458.00" font-size="10.05" font-family='"Liberation Serif", serif' fill="#333" xml:space="preserve"><tspan font-style="italic">E</tspan><tspan font-style="italic" font-size="7.24" dy="1.21">c</tspan><tspan x="157.86" dy="-1.21">26</tspan><tspan x="171.77" letter-spacing="0.44">GPa</tspan></text>
<line x1="147.57" y1="454.30" x2="154.08" y2="454.30" stroke="#444" stroke-width="0.6834" />
<line x1="147.57" y1="456.47" x2="154.08" y2="456.47" stroke="#444" stroke-width="0.6834" />
<text x="134.10" y="470.70" font-size="10.05" font-family='"Liberation Serif", serif' fill="#333" xml:space="preserve"><tspan font-style="italic">f</tspan><tspan font-style="italic" font-size="7.24" dy="1.21">co</tspan><tspan x="158.94" dy="-1.21">33.1</tspan><tspan x="180.39" letter-spacing="0.44">MPa</tspan></text>
<line x1="148.65" y1="467.00" x2="155.16" y2="467.00" stroke="#444" stroke-width="0.6834" />
<line x1="148.65" y1="469.17" x2="155.16" y2="469.17" stroke="#444" stroke-width="0.6834" />
<text x="212.70" y="456.80" font-size="10.05" font-family='"Liberation Serif", serif' fill="#333" xml:space="preserve"><tspan font-style="italic">f</tspan><tspan font-style="italic" font-size="7.24" dy="1.21">y</tspan><tspan x="233.76" dy="-1.21">420</tspan><tspan x="252.70" letter-spacing="0.44">MPa</tspan></text>
<line x1="223.39" y1="453.10" x2="229.91" y2="453.10" stroke="#444" stroke-width="0.6834" />
<line x1="223.39" y1="455.27" x2="229.91" y2="455.27" stroke="#444" stroke-width="0.6834" />
<text x="212.70" y="471.40" font-size="10.05" font-family='"Liberation Serif", serif' fill="#333" xml:space="preserve"><tspan font-style="italic">f</tspan><tspan font-style="italic" font-size="7.24" dy="1.21">u</tspan><tspan x="233.76" dy="-1.21">620</tspan><tspan x="252.70" letter-spacing="0.44">MPa</tspan></text>
<line x1="223.39" y1="467.70" x2="229.91" y2="467.70" stroke="#444" stroke-width="0.6834" />
<line x1="223.39" y1="469.87" x2="229.91" y2="469.87" stroke="#444" stroke-width="0.6834" />
<text x="257.20" y="278.70" font-size="25.5" text-anchor="start" font-family='"Liberation Serif", serif' fill="#333" >c</text>
<text x="267.60" y="279.00" font-size="27.5" text-anchor="start" font-family='"Liberation Serif", serif' fill="#333" >)</text>
<text x="158.70" y="504.20" font-size="12" text-anchor="middle" font-family='"Liberation Serif", serif' fill="#333" textLength="60.9">Axial Strain</text>
<g transform="translate(10.7,0) rotate(-90)"><text y="0" font-family='"Liberation Serif", serif' fill="#333" xml:space="preserve"><tspan x="-374.5" font-style="italic" font-size="14">f</tspan><tspan x="-367.8" dy="1.0" font-style="italic" font-size="10">cc</tspan><tspan x="-355.6" dy="-1.0" font-size="10">(MPa)</tspan></text></g>
<line x1="384.65" y1="3.10" x2="384.65" y2="220.50" stroke="#e8e8e8" stroke-width="0.8" />
<line x1="438.80" y1="3.10" x2="438.80" y2="220.50" stroke="#e8e8e8" stroke-width="0.8" />
<line x1="492.95" y1="3.10" x2="492.95" y2="220.50" stroke="#e8e8e8" stroke-width="0.8" />
<line x1="547.10" y1="3.10" x2="547.10" y2="220.50" stroke="#e8e8e8" stroke-width="0.8" />
<line x1="601.25" y1="3.10" x2="601.25" y2="220.50" stroke="#e8e8e8" stroke-width="0.8" />
<line x1="655.40" y1="3.10" x2="655.40" y2="220.50" stroke="#e8e8e8" stroke-width="0.8" />
<line x1="330.50" y1="198.76" x2="682.48" y2="198.76" stroke="#e8e8e8" stroke-width="0.8" />
<line x1="330.50" y1="177.02" x2="682.48" y2="177.02" stroke="#e8e8e8" stroke-width="0.8" />
<line x1="330.50" y1="155.28" x2="682.48" y2="155.28" stroke="#e8e8e8" stroke-width="0.8" />
<line x1="330.50" y1="133.54" x2="682.48" y2="133.54" stroke="#e8e8e8" stroke-width="0.8" />
<line x1="330.50" y1="111.80" x2="682.48" y2="111.80" stroke="#e8e8e8" stroke-width="0.8" />
<line x1="330.50" y1="90.06" x2="682.48" y2="90.06" stroke="#e8e8e8" stroke-width="0.8" />
<line x1="330.50" y1="68.32" x2="682.48" y2="68.32" stroke="#e8e8e8" stroke-width="0.8" />
<line x1="330.50" y1="46.58" x2="682.48" y2="46.58" stroke="#e8e8e8" stroke-width="0.8" />
<line x1="330.50" y1="24.84" x2="682.48" y2="24.84" stroke="#e8e8e8" stroke-width="0.8" />
<line x1="330.50" y1="3.10" x2="682.48" y2="3.10" stroke="#e8e8e8" stroke-width="0.8" />
<line x1="330.50" y1="3.10" x2="330.50" y2="220.50" stroke="#555" stroke-width="1" />
<line x1="330.50" y1="220.50" x2="682.48" y2="220.50" stroke="#555" stroke-width="1" />
<line x1="330.50" y1="220.50" x2="330.50" y2="218.00" stroke="#555" stroke-width="0.9" />
<text x="330.50" y="233.40" font-size="8.8" text-anchor="middle" font-family='"Liberation Sans", sans-serif' fill="#262626" stroke="#262626" stroke-width="0.22" >70</text>
<line x1="384.65" y1="220.50" x2="384.65" y2="218.00" stroke="#555" stroke-width="0.9" />
<text x="384.65" y="233.40" font-size="8.8" text-anchor="middle" font-family='"Liberation Sans", sans-serif' fill="#262626" stroke="#262626" stroke-width="0.22" >80</text>
<line x1="438.80" y1="220.50" x2="438.80" y2="218.00" stroke="#555" stroke-width="0.9" />
<text x="438.80" y="233.40" font-size="8.8" text-anchor="middle" font-family='"Liberation Sans", sans-serif' fill="#262626" stroke="#262626" stroke-width="0.22" >90</text>
<line x1="492.95" y1="220.50" x2="492.95" y2="218.00" stroke="#555" stroke-width="0.9" />
<text x="492.95" y="233.40" font-size="8.8" text-anchor="middle" font-family='"Liberation Sans", sans-serif' fill="#262626" stroke="#262626" stroke-width="0.22" >100</text>
<line x1="547.10" y1="220.50" x2="547.10" y2="218.00" stroke="#555" stroke-width="0.9" />
<text x="547.10" y="233.40" font-size="8.8" text-anchor="middle" font-family='"Liberation Sans", sans-serif' fill="#262626" stroke="#262626" stroke-width="0.22" >110</text>
<line x1="601.25" y1="220.50" x2="601.25" y2="218.00" stroke="#555" stroke-width="0.9" />
<text x="601.25" y="233.40" font-size="8.8" text-anchor="middle" font-family='"Liberation Sans", sans-serif' fill="#262626" stroke="#262626" stroke-width="0.22" >120</text>
<line x1="655.40" y1="220.50" x2="655.40" y2="218.00" stroke="#555" stroke-width="0.9" />
<text x="655.40" y="233.40" font-size="8.8" text-anchor="middle" font-family='"Liberation Sans", sans-serif' fill="#262626" stroke="#262626" stroke-width="0.22" >130</text>
<line x1="330.50" y1="220.50" x2="333.00" y2="220.50" stroke="#555" stroke-width="0.9" />
<text x="327.00" y="224.40" font-size="8.8" text-anchor="end" font-family='"Liberation Sans", sans-serif' fill="#262626" stroke="#262626" stroke-width="0.22" >0</text>
<line x1="330.50" y1="198.76" x2="333.00" y2="198.76" stroke="#555" stroke-width="0.9" />
<text x="327.00" y="202.66" font-size="8.8" text-anchor="end" font-family='"Liberation Sans", sans-serif' fill="#262626" stroke="#262626" stroke-width="0.22" >20</text>
<line x1="330.50" y1="177.02" x2="333.00" y2="177.02" stroke="#555" stroke-width="0.9" />
<text x="327.00" y="180.92" font-size="8.8" text-anchor="end" font-family='"Liberation Sans", sans-serif' fill="#262626" stroke="#262626" stroke-width="0.22" >40</text>
<line x1="330.50" y1="155.28" x2="333.00" y2="155.28" stroke="#555" stroke-width="0.9" />
<text x="327.00" y="159.18" font-size="8.8" text-anchor="end" font-family='"Liberation Sans", sans-serif' fill="#262626" stroke="#262626" stroke-width="0.22" >60</text>
<line x1="330.50" y1="133.54" x2="333.00" y2="133.54" stroke="#555" stroke-width="0.9" />
<text x="327.00" y="137.44" font-size="8.8" text-anchor="end" font-family='"Liberation Sans", sans-serif' fill="#262626" stroke="#262626" stroke-width="0.22" >80</text>
<line x1="330.50" y1="111.80" x2="333.00" y2="111.80" stroke="#555" stroke-width="0.9" />
<text x="327.00" y="115.70" font-size="8.8" text-anchor="end" font-family='"Liberation Sans", sans-serif' fill="#262626" stroke="#262626" stroke-width="0.22" >100</text>
<line x1="330.50" y1="90.06" x2="333.00" y2="90.06" stroke="#555" stroke-width="0.9" />
<text x="327.00" y="93.96" font-size="8.8" text-anchor="end" font-family='"Liberation Sans", sans-serif' fill="#262626" stroke="#262626" stroke-width="0.22" >120</text>
<line x1="330.50" y1="68.32" x2="333.00" y2="68.32" stroke="#555" stroke-width="0.9" />
<text x="327.00" y="72.22" font-size="8.8" text-anchor="end" font-family='"Liberation Sans", sans-serif' fill="#262626" stroke="#262626" stroke-width="0.22" >140</text>
<line x1="330.50" y1="46.58" x2="333.00" y2="46.58" stroke="#555" stroke-width="0.9" />
<text x="327.00" y="50.48" font-size="8.8" text-anchor="end" font-family='"Liberation Sans", sans-serif' fill="#262626" stroke="#262626" stroke-width="0.22" >160</text>
<line x1="330.50" y1="24.84" x2="333.00" y2="24.84" stroke="#555" stroke-width="0.9" />
<text x="327.00" y="28.74" font-size="8.8" text-anchor="end" font-family='"Liberation Sans", sans-serif' fill="#262626" stroke="#262626" stroke-width="0.22" >180</text>
<line x1="330.50" y1="3.10" x2="333.00" y2="3.10" stroke="#555" stroke-width="0.9" />
<text x="327.00" y="7.00" font-size="8.8" text-anchor="end" font-family='"Liberation Sans", sans-serif' fill="#262626" stroke="#262626" stroke-width="0.22" >200</text>
<polyline points="330.50,52.01 384.65,22.67 438.80,45.49 492.95,68.65 547.10,95.50 601.25,107.78 655.40,132.34" fill="none" stroke="#000000" stroke-width="1.9" stroke-linejoin="round" stroke-linecap="round" />
<polyline points="330.50,55.28 384.65,28.10 438.80,52.01 492.95,70.71 547.10,94.08 601.25,114.41 655.40,130.82" fill="none" stroke="#0000ff" stroke-width="1.8" stroke-linejoin="round" stroke-dasharray="5.5 5" stroke-linecap="butt"/>
<polyline points="330.50,64.30 384.65,28.10 438.80,60.71 492.95,78.10 547.10,97.89 601.25,118.21 655.40,134.63" fill="none" stroke="#ff0000" stroke-width="1.8" stroke-linejoin="round" stroke-dasharray="5.5 1.6 2.2 1.6" stroke-linecap="butt"/>
<polyline points="330.50,90.06 384.65,70.82 438.80,88.21 492.95,110.50 547.10,139.84 601.25,161.37 655.40,177.02" fill="none" stroke="#ff00ff" stroke-width="1.8" stroke-linejoin="round" stroke-dasharray="5.5 5" stroke-linecap="butt"/>
<polyline points="330.50,84.84 384.65,66.36 438.80,80.60 492.95,100.39 547.10,119.74 601.25,136.26 655.40,149.52" fill="none" stroke="#00ff00" stroke-width="1.8" stroke-linejoin="round" stroke-dasharray="5.5 5" stroke-linecap="butt"/>
<circle cx="330.50" cy="52.01" r="3.3" fill="none" stroke="#000000" stroke-width="1.7"/>
<circle cx="384.65" cy="22.67" r="3.3" fill="none" stroke="#000000" stroke-width="1.7"/>
<circle cx="438.80" cy="45.49" r="3.3" fill="none" stroke="#000000" stroke-width="1.7"/>
<circle cx="492.95" cy="68.65" r="3.3" fill="none" stroke="#000000" stroke-width="1.7"/>
<circle cx="547.10" cy="95.50" r="3.3" fill="none" stroke="#000000" stroke-width="1.7"/>
<circle cx="601.25" cy="107.78" r="3.3" fill="none" stroke="#000000" stroke-width="1.7"/>
<circle cx="655.40" cy="132.34" r="3.3" fill="none" stroke="#000000" stroke-width="1.7"/>
<circle cx="330.50" cy="90.06" r="3.3" fill="none" stroke="#ff00ff" stroke-width="1.5"/>
<circle cx="384.65" cy="70.82" r="3.3" fill="none" stroke="#ff00ff" stroke-width="1.5"/>
<circle cx="438.80" cy="88.21" r="3.3" fill="none" stroke="#ff00ff" stroke-width="1.5"/>
<circle cx="492.95" cy="110.50" r="3.3" fill="none" stroke="#ff00ff" stroke-width="1.5"/>
<circle cx="547.10" cy="139.84" r="3.3" fill="none" stroke="#ff00ff" stroke-width="1.5"/>
<circle cx="601.25" cy="161.37" r="3.3" fill="none" stroke="#ff00ff" stroke-width="1.5"/>
<circle cx="655.40" cy="177.02" r="3.3" fill="none" stroke="#ff00ff" stroke-width="1.5"/>
<rect x="327.90" y="82.24" width="5.2" height="5.2" fill="none" stroke="#00ff00" stroke-width="1.5"/>
<rect x="382.05" y="63.76" width="5.2" height="5.2" fill="#00ff00" stroke="#00ff00" stroke-width="1.5"/>
<rect x="436.20" y="78.00" width="5.2" height="5.2" fill="none" stroke="#00ff00" stroke-width="1.5"/>
<rect x="490.35" y="97.79" width="5.2" height="5.2" fill="none" stroke="#00ff00" stroke-width="1.5"/>
<rect x="544.50" y="117.14" width="5.2" height="5.2" fill="#00ff00" stroke="#00ff00" stroke-width="1.5"/>
<rect x="598.65" y="133.66" width="5.2" height="5.2" fill="none" stroke="#00ff00" stroke-width="1.5"/>
<rect x="652.80" y="146.92" width="5.2" height="5.2" fill="none" stroke="#00ff00" stroke-width="1.5"/>
<rect x="537.5" y="10.5" width="114.10000000000002" height="56.900000000000006" fill="#fff" stroke="#6a6a6a" stroke-width="0.9"/>
<line x1="540.40" y1="17.00" x2="566.70" y2="17.00" stroke="#000000" stroke-width="1.6" />
<circle cx="553.55" cy="17.00" r="3.3" fill="none" stroke="#000000" stroke-width="1.7"/>
<line x1="540.40" y1="28.20" x2="566.70" y2="28.20" stroke="#0000ff" stroke-width="1.6" stroke-dasharray="5.5 5"/>
<line x1="540.40" y1="39.40" x2="566.70" y2="39.40" stroke="#ff0000" stroke-width="1.6" stroke-dasharray="5.5 1.6 2.2 1.6"/>
<line x1="540.40" y1="50.50" x2="545.90" y2="50.50" stroke="#ff00ff" stroke-width="1.6" />
<line x1="561.20" y1="50.50" x2="566.70" y2="50.50" stroke="#ff00ff" stroke-width="1.6" />
<circle cx="553.55" cy="50.50" r="2.7" fill="none" stroke="#ff00ff" stroke-width="2.3"/>
<line x1="540.40" y1="61.50" x2="545.90" y2="61.50" stroke="#00ff00" stroke-width="1.6" />
<line x1="561.20" y1="61.50" x2="566.70" y2="61.50" stroke="#00ff00" stroke-width="1.6" />
<rect x="550.75" y="58.70" width="5.6" height="5.6" fill="#00ff00"/>
<text x="569.30" y="19.90" font-size="8" text-anchor="start" font-family='"Liberation Sans", sans-serif' fill="#222" stroke="#222" stroke-width="0.22" >FE Peak Stress</text>
<text x="569.30" y="31.10" font-size="8" text-anchor="start" font-family='"Liberation Sans", sans-serif' fill="#222" stroke="#222" stroke-width="0.22" >Model KHR</text>
<text x="569.30" y="42.30" font-size="8" text-anchor="start" font-family='"Liberation Sans", sans-serif' fill="#222" stroke="#222" stroke-width="0.22" >Model SW</text>
<text x="569.30" y="53.40" font-size="8" text-anchor="start" font-family='"Liberation Sans", sans-serif' fill="#222" stroke="#222" stroke-width="0.22" >FE Yield Stress</text>
<text x="569.30" y="64.40" font-size="8" text-anchor="start" font-family='"Liberation Sans", sans-serif' fill="#222" stroke="#222" stroke-width="0.22" >Predicted Yield Stress</text>
<text x="336.70" y="25.50" font-size="25.5" text-anchor="start" font-family='"Liberation Serif", serif' fill="#333" >b</text>
<text x="349.30" y="25.70" font-size="27.5" text-anchor="start" font-family='"Liberation Serif", serif' fill="#333" >)</text>
<text x="338.80" y="176.10" font-size="18.5" text-anchor="start" font-family='"Liberation Serif", serif' fill="#333" textLength="53.1">Mortar</text>
<text x="340.20" y="191.50" font-size="12.5" font-family='"Liberation Serif", serif' fill="#333" xml:space="preserve"><tspan font-style="italic">E</tspan><tspan font-style="italic" font-size="9.00" dy="1.50">c</tspan><tspan x="370.00" dy="-1.50">4.4</tspan><tspan x="390.43" letter-spacing="0.55">GPa</tspan></text>
<line x1="357.20" y1="186.90" x2="365.30" y2="186.90" stroke="#444" stroke-width="0.85" />
<line x1="357.20" y1="189.60" x2="365.30" y2="189.60" stroke="#444" stroke-width="0.85" />
<text x="339.80" y="207.30" font-size="12.5" font-family='"Liberation Serif", serif' fill="#333" xml:space="preserve"><tspan font-style="italic">f</tspan><tspan font-style="italic" font-size="9.00" dy="1.50">co</tspan><tspan x="370.70" dy="-1.50">38.4</tspan><tspan x="397.38" letter-spacing="0.55">MPa</tspan></text>
<line x1="357.90" y1="202.70" x2="366.00" y2="202.70" stroke="#444" stroke-width="0.85" />
<line x1="357.90" y1="205.40" x2="366.00" y2="205.40" stroke="#444" stroke-width="0.85" />
<text x="447.80" y="187.70" font-size="12.5" font-family='"Liberation Serif", serif' fill="#333" xml:space="preserve"><tspan font-style="italic">f</tspan><tspan font-style="italic" font-size="9.00" dy="1.50">y</tspan><tspan x="474.00" dy="-1.50">850</tspan><tspan x="497.55" letter-spacing="0.55">MPa</tspan></text>
<line x1="461.10" y1="183.10" x2="469.20" y2="183.10" stroke="#444" stroke-width="0.85" />
<line x1="461.10" y1="185.80" x2="469.20" y2="185.80" stroke="#444" stroke-width="0.85" />
<text x="447.80" y="206.70" font-size="12.5" font-family='"Liberation Serif", serif' fill="#333" xml:space="preserve"><tspan font-style="italic">f</tspan><tspan font-style="italic" font-size="9.00" dy="1.50">u</tspan><tspan x="474.00" dy="-1.50">1050</tspan><tspan x="503.80" letter-spacing="0.55">MPa</tspan></text>
<line x1="461.10" y1="202.10" x2="469.20" y2="202.10" stroke="#444" stroke-width="0.85" />
<line x1="461.10" y1="204.80" x2="469.20" y2="204.80" stroke="#444" stroke-width="0.85" />
<text x="506.10" y="246.00" font-size="11.5" text-anchor="middle" font-family='"Liberation Serif", serif' fill="#333" textLength="141.9">Characteristic Angle (degrees)</text>
<g transform="translate(303.2,0) rotate(-90)"><text y="0" font-family='"Liberation Serif", serif' fill="#333" xml:space="preserve"><tspan x="-143.2" font-style="italic" font-size="15.5">f</tspan><tspan x="-135.3" dy="2.8" font-style="italic" font-size="10.5">cc</tspan><tspan x="-119.5" dy="-2.8" font-size="15">(MPa)</tspan></text></g>
<line x1="383.95" y1="258.00" x2="383.95" y2="475.20" stroke="#e8e8e8" stroke-width="0.8" />
<line x1="438.10" y1="258.00" x2="438.10" y2="475.20" stroke="#e8e8e8" stroke-width="0.8" />
<line x1="492.25" y1="258.00" x2="492.25" y2="475.20" stroke="#e8e8e8" stroke-width="0.8" />
<line x1="546.40" y1="258.00" x2="546.40" y2="475.20" stroke="#e8e8e8" stroke-width="0.8" />
<line x1="600.55" y1="258.00" x2="600.55" y2="475.20" stroke="#e8e8e8" stroke-width="0.8" />
<line x1="654.70" y1="258.00" x2="654.70" y2="475.20" stroke="#e8e8e8" stroke-width="0.8" />
<line x1="329.80" y1="453.48" x2="681.78" y2="453.48" stroke="#e8e8e8" stroke-width="0.8" />
<line x1="329.80" y1="431.76" x2="681.78" y2="431.76" stroke="#e8e8e8" stroke-width="0.8" />
<line x1="329.80" y1="410.04" x2="681.78" y2="410.04" stroke="#e8e8e8" stroke-width="0.8" />
<line x1="329.80" y1="388.32" x2="681.78" y2="388.32" stroke="#e8e8e8" stroke-width="0.8" />
<line x1="329.80" y1="366.60" x2="681.78" y2="366.60" stroke="#e8e8e8" stroke-width="0.8" />
<line x1="329.80" y1="344.88" x2="681.78" y2="344.88" stroke="#e8e8e8" stroke-width="0.8" />
<line x1="329.80" y1="323.16" x2="681.78" y2="323.16" stroke="#e8e8e8" stroke-width="0.8" />
<line x1="329.80" y1="301.44" x2="681.78" y2="301.44" stroke="#e8e8e8" stroke-width="0.8" />
<line x1="329.80" y1="279.72" x2="681.78" y2="279.72" stroke="#e8e8e8" stroke-width="0.8" />
<line x1="329.80" y1="258.00" x2="681.78" y2="258.00" stroke="#e8e8e8" stroke-width="0.8" />
<line x1="329.50" y1="258.00" x2="329.50" y2="475.50" stroke="#555" stroke-width="1" />
<line x1="329.50" y1="475.50" x2="681.78" y2="475.50" stroke="#555" stroke-width="1" />
<line x1="329.80" y1="475.20" x2="329.80" y2="472.70" stroke="#555" stroke-width="0.9" />
<text x="329.80" y="488.10" font-size="8.8" text-anchor="middle" font-family='"Liberation Sans", sans-serif' fill="#262626" stroke="#262626" stroke-width="0.22" >70</text>
<line x1="383.95" y1="475.20" x2="383.95" y2="472.70" stroke="#555" stroke-width="0.9" />
<text x="383.95" y="488.10" font-size="8.8" text-anchor="middle" font-family='"Liberation Sans", sans-serif' fill="#262626" stroke="#262626" stroke-width="0.22" >80</text>
<line x1="438.10" y1="475.20" x2="438.10" y2="472.70" stroke="#555" stroke-width="0.9" />
<text x="438.10" y="488.10" font-size="8.8" text-anchor="middle" font-family='"Liberation Sans", sans-serif' fill="#262626" stroke="#262626" stroke-width="0.22" >90</text>
<line x1="492.25" y1="475.20" x2="492.25" y2="472.70" stroke="#555" stroke-width="0.9" />
<text x="492.25" y="488.10" font-size="8.8" text-anchor="middle" font-family='"Liberation Sans", sans-serif' fill="#262626" stroke="#262626" stroke-width="0.22" >100</text>
<line x1="546.40" y1="475.20" x2="546.40" y2="472.70" stroke="#555" stroke-width="0.9" />
<text x="546.40" y="488.10" font-size="8.8" text-anchor="middle" font-family='"Liberation Sans", sans-serif' fill="#262626" stroke="#262626" stroke-width="0.22" >110</text>
<line x1="600.55" y1="475.20" x2="600.55" y2="472.70" stroke="#555" stroke-width="0.9" />
<text x="600.55" y="488.10" font-size="8.8" text-anchor="middle" font-family='"Liberation Sans", sans-serif' fill="#262626" stroke="#262626" stroke-width="0.22" >120</text>
<line x1="654.70" y1="475.20" x2="654.70" y2="472.70" stroke="#555" stroke-width="0.9" />
<text x="654.70" y="488.10" font-size="8.8" text-anchor="middle" font-family='"Liberation Sans", sans-serif' fill="#262626" stroke="#262626" stroke-width="0.22" >130</text>
<line x1="329.80" y1="475.20" x2="332.30" y2="475.20" stroke="#555" stroke-width="0.9" />
<text x="326.30" y="479.10" font-size="8.8" text-anchor="end" font-family='"Liberation Sans", sans-serif' fill="#262626" stroke="#262626" stroke-width="0.22" >0</text>
<line x1="329.80" y1="453.48" x2="332.30" y2="453.48" stroke="#555" stroke-width="0.9" />
<text x="326.30" y="457.38" font-size="8.8" text-anchor="end" font-family='"Liberation Sans", sans-serif' fill="#262626" stroke="#262626" stroke-width="0.22" >20</text>
<line x1="329.80" y1="431.76" x2="332.30" y2="431.76" stroke="#555" stroke-width="0.9" />
<text x="326.30" y="435.66" font-size="8.8" text-anchor="end" font-family='"Liberation Sans", sans-serif' fill="#262626" stroke="#262626" stroke-width="0.22" >40</text>
<line x1="329.80" y1="410.04" x2="332.30" y2="410.04" stroke="#555" stroke-width="0.9" />
<text x="326.30" y="413.94" font-size="8.8" text-anchor="end" font-family='"Liberation Sans", sans-serif' fill="#262626" stroke="#262626" stroke-width="0.22" >60</text>
<line x1="329.80" y1="388.32" x2="332.30" y2="388.32" stroke="#555" stroke-width="0.9" />
<text x="326.30" y="392.22" font-size="8.8" text-anchor="end" font-family='"Liberation Sans", sans-serif' fill="#262626" stroke="#262626" stroke-width="0.22" >80</text>
<line x1="329.80" y1="366.60" x2="332.30" y2="366.60" stroke="#555" stroke-width="0.9" />
<text x="326.30" y="370.50" font-size="8.8" text-anchor="end" font-family='"Liberation Sans", sans-serif' fill="#262626" stroke="#262626" stroke-width="0.22" >100</text>
<line x1="329.80" y1="344.88" x2="332.30" y2="344.88" stroke="#555" stroke-width="0.9" />
<text x="326.30" y="348.78" font-size="8.8" text-anchor="end" font-family='"Liberation Sans", sans-serif' fill="#262626" stroke="#262626" stroke-width="0.22" >120</text>
<line x1="329.80" y1="323.16" x2="332.30" y2="323.16" stroke="#555" stroke-width="0.9" />
<text x="326.30" y="327.06" font-size="8.8" text-anchor="end" font-family='"Liberation Sans", sans-serif' fill="#262626" stroke="#262626" stroke-width="0.22" >140</text>
<line x1="329.80" y1="301.44" x2="332.30" y2="301.44" stroke="#555" stroke-width="0.9" />
<text x="326.30" y="305.34" font-size="8.8" text-anchor="end" font-family='"Liberation Sans", sans-serif' fill="#262626" stroke="#262626" stroke-width="0.22" >160</text>
<line x1="329.80" y1="279.72" x2="332.30" y2="279.72" stroke="#555" stroke-width="0.9" />
<text x="326.30" y="283.62" font-size="8.8" text-anchor="end" font-family='"Liberation Sans", sans-serif' fill="#262626" stroke="#262626" stroke-width="0.22" >180</text>
<line x1="329.80" y1="258.00" x2="332.30" y2="258.00" stroke="#555" stroke-width="0.9" />
<text x="326.30" y="261.90" font-size="8.8" text-anchor="end" font-family='"Liberation Sans", sans-serif' fill="#262626" stroke="#262626" stroke-width="0.22" >200</text>
<polyline points="329.80,354.22 383.95,330.33 438.10,343.69 492.25,362.26 546.40,385.06 600.55,393.53 654.70,413.95" fill="none" stroke="#000000" stroke-width="1.9" stroke-linejoin="round" stroke-linecap="round" />
<polyline points="329.80,347.70 383.95,330.54 438.10,343.79 492.25,363.99 546.40,381.48 600.55,395.05 654.70,410.04" fill="none" stroke="#0000ff" stroke-width="1.8" stroke-linejoin="round" stroke-dasharray="5.5 5" stroke-linecap="butt"/>
<polyline points="329.80,353.57 383.95,339.02 438.10,349.98 492.25,366.82 546.40,385.39 600.55,398.09 654.70,412.43" fill="none" stroke="#ff0000" stroke-width="1.8" stroke-linejoin="round" stroke-dasharray="5.5 1.6 2.2 1.6" stroke-linecap="butt"/>
<polyline points="329.80,379.74 383.95,365.30 438.10,371.81 492.25,385.61 546.40,400.16 600.55,409.39 654.70,420.47" fill="none" stroke="#ff00ff" stroke-width="1.8" stroke-linejoin="round" stroke-dasharray="5.5 5" stroke-linecap="butt"/>
<polyline points="329.80,379.74 383.95,363.23 438.10,376.37 492.25,391.36 546.40,404.94 600.55,415.90 654.70,423.51" fill="none" stroke="#00ff00" stroke-width="1.8" stroke-linejoin="round" stroke-dasharray="5.5 5" stroke-linecap="butt"/>
<circle cx="329.80" cy="354.22" r="3.3" fill="none" stroke="#000000" stroke-width="1.7"/>
<circle cx="383.95" cy="330.33" r="3.3" fill="none" stroke="#000000" stroke-width="1.7"/>
<circle cx="438.10" cy="343.69" r="3.3" fill="none" stroke="#000000" stroke-width="1.7"/>
<circle cx="492.25" cy="362.26" r="3.3" fill="none" stroke="#000000" stroke-width="1.7"/>
<circle cx="546.40" cy="385.06" r="3.3" fill="none" stroke="#000000" stroke-width="1.7"/>
<circle cx="600.55" cy="393.53" r="3.3" fill="none" stroke="#000000" stroke-width="1.7"/>
<circle cx="654.70" cy="413.95" r="3.3" fill="none" stroke="#000000" stroke-width="1.7"/>
<circle cx="329.80" cy="379.74" r="3.3" fill="none" stroke="#ff00ff" stroke-width="1.5"/>
<circle cx="383.95" cy="365.30" r="3.3" fill="none" stroke="#ff00ff" stroke-width="1.5"/>
<circle cx="438.10" cy="371.81" r="3.3" fill="none" stroke="#ff00ff" stroke-width="1.5"/>
<circle cx="492.25" cy="385.61" r="3.3" fill="none" stroke="#ff00ff" stroke-width="1.5"/>
<circle cx="546.40" cy="400.16" r="3.3" fill="none" stroke="#ff00ff" stroke-width="1.5"/>
<circle cx="600.55" cy="409.39" r="3.3" fill="none" stroke="#ff00ff" stroke-width="1.5"/>
<circle cx="654.70" cy="420.47" r="3.3" fill="none" stroke="#ff00ff" stroke-width="1.5"/>
<rect x="327.20" y="377.14" width="5.2" height="5.2" fill="none" stroke="#00ff00" stroke-width="1.5"/>
<rect x="381.35" y="360.63" width="5.2" height="5.2" fill="#00ff00" stroke="#00ff00" stroke-width="1.5"/>
<rect x="435.50" y="373.77" width="5.2" height="5.2" fill="#00ff00" stroke="#00ff00" stroke-width="1.5"/>
<rect x="489.65" y="388.76" width="5.2" height="5.2" fill="none" stroke="#00ff00" stroke-width="1.5"/>
<rect x="543.80" y="402.34" width="5.2" height="5.2" fill="none" stroke="#00ff00" stroke-width="1.5"/>
<rect x="597.95" y="413.30" width="5.2" height="5.2" fill="#00ff00" stroke="#00ff00" stroke-width="1.5"/>
<rect x="652.10" y="420.91" width="5.2" height="5.2" fill="#00ff00" stroke="#00ff00" stroke-width="1.5"/>
<rect x="537.3" y="265.3" width="114.0" height="57.80000000000001" fill="#fff" stroke="#6a6a6a" stroke-width="0.9"/>
<line x1="540.00" y1="272.00" x2="566.20" y2="272.00" stroke="#000000" stroke-width="1.6" />
<circle cx="553.10" cy="272.00" r="3.3" fill="none" stroke="#000000" stroke-width="1.7"/>
<line x1="540.00" y1="283.60" x2="566.20" y2="283.60" stroke="#0000ff" stroke-width="1.6" stroke-dasharray="5.5 5"/>
<line x1="540.00" y1="294.40" x2="566.20" y2="294.40" stroke="#ff0000" stroke-width="1.6" stroke-dasharray="5.5 1.6 2.2 1.6"/>
<line x1="540.00" y1="305.30" x2="545.50" y2="305.30" stroke="#ff00ff" stroke-width="1.6" />
<line x1="560.70" y1="305.30" x2="566.20" y2="305.30" stroke="#ff00ff" stroke-width="1.6" />
<circle cx="553.10" cy="305.30" r="2.7" fill="none" stroke="#ff00ff" stroke-width="2.3"/>
<line x1="540.00" y1="316.60" x2="545.50" y2="316.60" stroke="#00ff00" stroke-width="1.6" />
<line x1="560.70" y1="316.60" x2="566.20" y2="316.60" stroke="#00ff00" stroke-width="1.6" />
<rect x="550.30" y="313.80" width="5.6" height="5.6" fill="#00ff00"/>
<text x="568.70" y="274.90" font-size="8" text-anchor="start" font-family='"Liberation Sans", sans-serif' fill="#222" stroke="#222" stroke-width="0.22" >FE Peak Stress</text>
<text x="568.70" y="286.50" font-size="8" text-anchor="start" font-family='"Liberation Sans", sans-serif' fill="#222" stroke="#222" stroke-width="0.22" >Model KHR</text>
<text x="568.70" y="297.30" font-size="8" text-anchor="start" font-family='"Liberation Sans", sans-serif' fill="#222" stroke="#222" stroke-width="0.22" >Model SW</text>
<text x="568.70" y="308.20" font-size="8" text-anchor="start" font-family='"Liberation Sans", sans-serif' fill="#222" stroke="#222" stroke-width="0.22" >FE Yield Stress</text>
<text x="568.70" y="319.50" font-size="8" text-anchor="start" font-family='"Liberation Sans", sans-serif' fill="#222" stroke="#222" stroke-width="0.22" >Predicted Yield Stress</text>
<text x="338.20" y="278.70" font-size="25.5" text-anchor="start" font-family='"Liberation Serif", serif' fill="#333" >d</text>
<text x="351.10" y="279.00" font-size="27.5" text-anchor="start" font-family='"Liberation Serif", serif' fill="#333" >)</text>
<text x="339.60" y="432.10" font-size="22" text-anchor="start" font-family='"Liberation Serif", serif' fill="#333" textLength="82.4">Concrete</text>
<text x="339.60" y="448.00" font-size="12.5" font-family='"Liberation Serif", serif' fill="#333" xml:space="preserve"><tspan font-style="italic">E</tspan><tspan font-style="italic" font-size="9.00" dy="1.50">c</tspan><tspan x="369.40" dy="-1.50">26</tspan><tspan x="386.70" letter-spacing="0.55">GPa</tspan></text>
<line x1="356.60" y1="443.40" x2="364.70" y2="443.40" stroke="#444" stroke-width="0.85" />
<line x1="356.60" y1="446.10" x2="364.70" y2="446.10" stroke="#444" stroke-width="0.85" />
<text x="339.20" y="464.30" font-size="12.5" font-family='"Liberation Serif", serif' fill="#333" xml:space="preserve"><tspan font-style="italic">f</tspan><tspan font-style="italic" font-size="9.00" dy="1.50">co</tspan><tspan x="370.10" dy="-1.50">33.1</tspan><tspan x="396.77" letter-spacing="0.55">MPa</tspan></text>
<line x1="357.30" y1="459.70" x2="365.40" y2="459.70" stroke="#444" stroke-width="0.85" />
<line x1="357.30" y1="462.40" x2="365.40" y2="462.40" stroke="#444" stroke-width="0.85" />
<text x="437.60" y="447.60" font-size="12.5" font-family='"Liberation Serif", serif' fill="#333" xml:space="preserve"><tspan font-style="italic">f</tspan><tspan font-style="italic" font-size="9.00" dy="1.50">y</tspan><tspan x="463.80" dy="-1.50">420</tspan><tspan x="487.35" letter-spacing="0.55">MPa</tspan></text>
<line x1="450.90" y1="443.00" x2="459.00" y2="443.00" stroke="#444" stroke-width="0.85" />
<line x1="450.90" y1="445.70" x2="459.00" y2="445.70" stroke="#444" stroke-width="0.85" />
<text x="437.60" y="464.30" font-size="12.5" font-family='"Liberation Serif", serif' fill="#333" xml:space="preserve"><tspan font-style="italic">f</tspan><tspan font-style="italic" font-size="9.00" dy="1.50">u</tspan><tspan x="463.80" dy="-1.50">620</tspan><tspan x="487.35" letter-spacing="0.55">MPa</tspan></text>
<line x1="450.90" y1="459.70" x2="459.00" y2="459.70" stroke="#444" stroke-width="0.85" />
<line x1="450.90" y1="462.40" x2="459.00" y2="462.40" stroke="#444" stroke-width="0.85" />
<text x="505.80" y="500.70" font-size="11.5" text-anchor="middle" font-family='"Liberation Serif", serif' fill="#333" textLength="141.6">Characteristic Angle (degrees)</text>
<g transform="translate(302.6,0) rotate(-90)"><text y="0" font-family='"Liberation Serif", serif' fill="#333" xml:space="preserve"><tspan x="-398.0" font-style="italic" font-size="15.5">f</tspan><tspan x="-390.1" dy="2.8" font-style="italic" font-size="10.5">cc</tspan><tspan x="-374.3" dy="-2.8" font-size="15">(MPa)</tspan></text></g>
<line x1="215.83" y1="513.30" x2="215.83" y2="741.60" stroke="#e8e8e8" stroke-width="0.8" />
<line x1="287.88" y1="513.30" x2="287.88" y2="741.60" stroke="#e8e8e8" stroke-width="0.8" />
<line x1="359.93" y1="513.30" x2="359.93" y2="741.60" stroke="#e8e8e8" stroke-width="0.8" />
<line x1="431.98" y1="513.30" x2="431.98" y2="741.60" stroke="#e8e8e8" stroke-width="0.8" />
<line x1="179.80" y1="720.85" x2="468.00" y2="720.85" stroke="#e8e8e8" stroke-width="0.8" />
<line x1="179.80" y1="668.98" x2="468.00" y2="668.98" stroke="#e8e8e8" stroke-width="0.8" />
<line x1="179.80" y1="565.23" x2="468.00" y2="565.23" stroke="#e8e8e8" stroke-width="0.8" />
<line x1="179.80" y1="513.35" x2="468.00" y2="513.35" stroke="#e8e8e8" stroke-width="0.8" />
<line x1="179.50" y1="513.30" x2="179.50" y2="741.50" stroke="#555" stroke-width="1" />
<line x1="179.50" y1="741.50" x2="468.00" y2="741.50" stroke="#555" stroke-width="1" />
<line x1="215.83" y1="741.60" x2="215.83" y2="739.10" stroke="#555" stroke-width="0.9" />
<text x="215.83" y="755.00" font-size="8.8" text-anchor="middle" font-family='"Liberation Sans", sans-serif' fill="#262626" stroke="#262626" stroke-width="0.22" >BT75</text>
<line x1="287.88" y1="741.60" x2="287.88" y2="739.10" stroke="#555" stroke-width="0.9" />
<text x="287.88" y="755.00" font-size="8.8" text-anchor="middle" font-family='"Liberation Sans", sans-serif' fill="#262626" stroke="#262626" stroke-width="0.22" >BT80-CUB</text>
<line x1="359.93" y1="741.60" x2="359.93" y2="739.10" stroke="#555" stroke-width="0.9" />
<text x="359.93" y="755.00" font-size="8.8" text-anchor="middle" font-family='"Liberation Sans", sans-serif' fill="#262626" stroke="#262626" stroke-width="0.22" >BT80-COL</text>
<line x1="431.98" y1="741.60" x2="431.98" y2="739.10" stroke="#555" stroke-width="0.9" />
<text x="431.98" y="755.00" font-size="8.8" text-anchor="middle" font-family='"Liberation Sans", sans-serif' fill="#262626" stroke="#262626" stroke-width="0.22" >BT85</text>
<line x1="179.80" y1="720.85" x2="182.30" y2="720.85" stroke="#555" stroke-width="0.9" />
<text x="176.30" y="724.75" font-size="8.8" text-anchor="end" font-family='"Liberation Sans", sans-serif' fill="#262626" stroke="#262626" stroke-width="0.22" >0.5</text>
<line x1="179.80" y1="668.98" x2="182.30" y2="668.98" stroke="#555" stroke-width="0.9" />
<text x="176.30" y="672.88" font-size="8.8" text-anchor="end" font-family='"Liberation Sans", sans-serif' fill="#262626" stroke="#262626" stroke-width="0.22" >0.75</text>
<line x1="179.80" y1="617.10" x2="182.30" y2="617.10" stroke="#555" stroke-width="0.9" />
<text x="176.30" y="621.00" font-size="8.8" text-anchor="end" font-family='"Liberation Sans", sans-serif' fill="#262626" stroke="#262626" stroke-width="0.22" >1</text>
<line x1="179.80" y1="565.23" x2="182.30" y2="565.23" stroke="#555" stroke-width="0.9" />
<text x="176.30" y="569.12" font-size="8.8" text-anchor="end" font-family='"Liberation Sans", sans-serif' fill="#262626" stroke="#262626" stroke-width="0.22" >1.25</text>
<line x1="179.80" y1="513.35" x2="182.30" y2="513.35" stroke="#555" stroke-width="0.9" />
<text x="176.30" y="517.25" font-size="8.8" text-anchor="end" font-family='"Liberation Sans", sans-serif' fill="#262626" stroke="#262626" stroke-width="0.22" >1.5</text>
<line x1="179.80" y1="617.50" x2="468.00" y2="617.50" stroke="#6a6a6a" stroke-width="1" />
<line x1="179.80" y1="596.35" x2="468.00" y2="596.35" stroke="#ff3030" stroke-width="1.1" stroke-dasharray="1.3 1.3"/>
<line x1="179.80" y1="637.85" x2="468.00" y2="637.85" stroke="#ff3030" stroke-width="1.1" stroke-dasharray="1.3 1.3"/>
<circle cx="215.83" cy="617.10" r="3.9" fill="#0000ff"/>
<circle cx="287.88" cy="581.83" r="3.9" fill="#0000ff"/>
<circle cx="287.88" cy="590.12" r="3.9" fill="#0000ff"/>
<circle cx="359.93" cy="621.87" r="3.9" fill="#0000ff"/>
<circle cx="359.93" cy="635.77" r="3.9" fill="#0000ff"/>
<circle cx="359.93" cy="637.85" r="3.9" fill="#0000ff"/>
<circle cx="431.98" cy="579.75" r="3.9" fill="#0000ff"/>
<circle cx="431.98" cy="610.25" r="3.9" fill="#0000ff"/>
<circle cx="431.98" cy="614.82" r="3.9" fill="#0000ff"/>
<circle cx="215.83" cy="606.73" r="3.9" fill="#ff0000"/>
<circle cx="215.83" cy="608.80" r="3.9" fill="#ff0000"/>
<circle cx="215.83" cy="625.40" r="3.9" fill="#ff0000"/>
<circle cx="287.88" cy="594.27" r="3.9" fill="#ff0000"/>
<circle cx="287.88" cy="604.65" r="3.9" fill="#ff0000"/>
<circle cx="359.93" cy="605.07" r="3.9" fill="#ff0000"/>
<circle cx="359.93" cy="613.37" r="3.9" fill="#ff0000"/>
<circle cx="359.93" cy="629.76" r="3.9" fill="#ff0000"/>
<circle cx="359.93" cy="632.04" r="3.9" fill="#ff0000"/>
<circle cx="431.98" cy="592.20" r="3.9" fill="#ff0000"/>
<circle cx="431.98" cy="621.87" r="3.9" fill="#ff0000"/>
<circle cx="431.98" cy="629.55" r="3.9" fill="#ff0000"/>
<text x="452.90" y="593.20" font-size="8.6" text-anchor="middle" font-family='"Liberation Sans", sans-serif' fill="#ff2020" stroke="#ff2020" stroke-width="0.22" >+10%</text>
<text x="453.50" y="634.40" font-size="8.6" text-anchor="middle" font-family='"Liberation Sans", sans-serif' fill="#ff2020" stroke="#ff2020" stroke-width="0.22" >-10%</text>
<text x="188.20" y="536.70" font-size="25.5" text-anchor="start" font-family='"Liberation Serif", serif' fill="#333" >e</text>
<text x="199.10" y="536.30" font-size="27.5" text-anchor="start" font-family='"Liberation Serif", serif' fill="#333" >)</text>
<text x="323.80" y="767.80" font-size="12" text-anchor="middle" font-family='"Liberation Serif", serif' fill="#333" textLength="47">Specimen</text>
<g transform="translate(152.8,0) rotate(-90)"><text x="-675.7" y="0" font-family='"Liberation Serif", serif' fill="#333" font-size="14.5" textLength="96.4" lengthAdjust="spacing" xml:space="preserve">Pred.  Accuracy</text></g>
<rect x="186.8" y="690.3" width="109.2" height="44.2" fill="#fff" stroke="#555" stroke-width="0.9"/>
<circle cx="202.7" cy="697.7" r="3.1" fill="#0000ff"/>
<circle cx="202.7" cy="712.1" r="3.1" fill="#ff0000"/>
<line x1="189.30" y1="725.80" x2="214.60" y2="725.80" stroke="#ff3030" stroke-width="1.1" stroke-dasharray="1.3 1.3"/>
<text x="218.30" y="701.80" font-size="12" text-anchor="start" font-family='"Liberation Serif", serif' fill="#333" >Yield</text>
<text x="218.30" y="716.20" font-size="12" text-anchor="start" font-family='"Liberation Serif", serif' fill="#333" >Ultimate</text>
<text x="218.30" y="729.90" font-size="12" text-anchor="start" font-family='"Liberation Serif", serif' fill="#333" textLength="75">10% Threshold</text>
</svg></body></html>
